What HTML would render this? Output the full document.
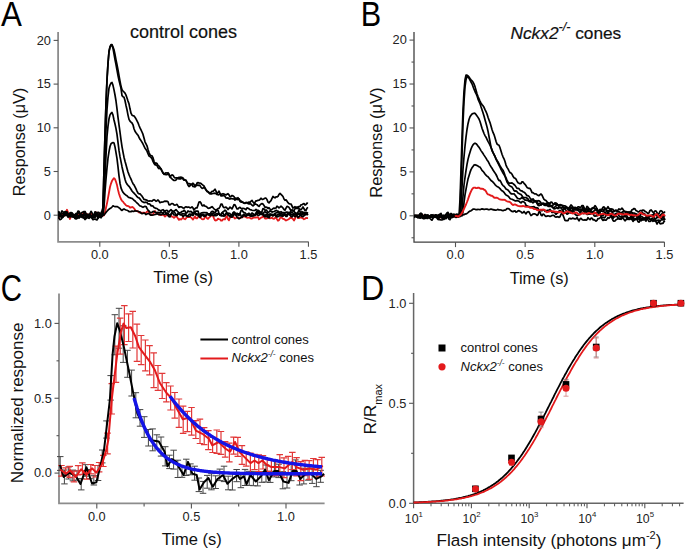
<!DOCTYPE html>
<html><head><meta charset="utf-8"><style>
html,body{margin:0;padding:0;background:#fff;}
svg{display:block;font-family:"Liberation Sans", sans-serif;}
</style></head><body>
<svg width="685" height="552" viewBox="0 0 685 552">
<rect width="685" height="552" fill="#fff"/>
<text transform="translate(1.0,26.4) scale(0.895,1)" font-size="35" fill="#000">A</text>
<text transform="translate(360.7,26.1) scale(0.875,1)" font-size="35" fill="#000">B</text>
<text transform="translate(0.8,300.6) scale(0.8,1)" font-size="36.8" fill="#000">C</text>
<text transform="translate(361.0,300.3) scale(0.9,1)" font-size="35.8" fill="#000">D</text>
<path d="M58.1,32 L58.1,241.8 L308.5,241.8" fill="none" stroke="#8c8c8c" stroke-width="1.8"/>
<line x1="53.6" y1="215.2" x2="58.1" y2="215.2" stroke="#555" stroke-width="1.1"/>
<text x="50.9" y="219.5" font-size="12.8" text-anchor="end" fill="#222" style="">0</text>
<line x1="53.6" y1="171.5" x2="58.1" y2="171.5" stroke="#555" stroke-width="1.1"/>
<text x="50.9" y="175.8" font-size="12.8" text-anchor="end" fill="#222" style="">5</text>
<line x1="53.6" y1="127.79999999999998" x2="58.1" y2="127.79999999999998" stroke="#555" stroke-width="1.1"/>
<text x="50.9" y="132.1" font-size="12.8" text-anchor="end" fill="#222" style="">10</text>
<line x1="53.6" y1="84.1" x2="58.1" y2="84.1" stroke="#555" stroke-width="1.1"/>
<text x="50.9" y="88.39999999999999" font-size="12.8" text-anchor="end" fill="#222" style="">15</text>
<line x1="53.6" y1="40.39999999999998" x2="58.1" y2="40.39999999999998" stroke="#555" stroke-width="1.1"/>
<text x="50.9" y="44.699999999999974" font-size="12.8" text-anchor="end" fill="#222" style="">20</text>
<line x1="99.8" y1="241.8" x2="99.8" y2="246.8" stroke="#555" stroke-width="1.1"/>
<text x="99.8" y="259.1" font-size="12.8" text-anchor="middle" fill="#222" style="">0.0</text>
<line x1="169.35" y1="241.8" x2="169.35" y2="246.8" stroke="#555" stroke-width="1.1"/>
<text x="169.35" y="259.1" font-size="12.8" text-anchor="middle" fill="#222" style="">0.5</text>
<line x1="238.89999999999998" y1="241.8" x2="238.89999999999998" y2="246.8" stroke="#555" stroke-width="1.1"/>
<text x="238.89999999999998" y="259.1" font-size="12.8" text-anchor="middle" fill="#222" style="">1.0</text>
<line x1="308.45" y1="241.8" x2="308.45" y2="246.8" stroke="#555" stroke-width="1.1"/>
<text x="308.45" y="259.1" font-size="12.8" text-anchor="middle" fill="#222" style="">1.5</text>
<path d="M414.0,32 L414.0,242.1 L664.5,242.1" fill="none" stroke="#404040" stroke-width="1.3"/>
<line x1="409.5" y1="215.8" x2="414.0" y2="215.8" stroke="#555" stroke-width="1.1"/>
<text x="406.8" y="220.10000000000002" font-size="12.8" text-anchor="end" fill="#222" style="">0</text>
<line x1="409.5" y1="171.875" x2="414.0" y2="171.875" stroke="#555" stroke-width="1.1"/>
<text x="406.8" y="176.175" font-size="12.8" text-anchor="end" fill="#222" style="">5</text>
<line x1="409.5" y1="127.95000000000002" x2="414.0" y2="127.95000000000002" stroke="#555" stroke-width="1.1"/>
<text x="406.8" y="132.25000000000003" font-size="12.8" text-anchor="end" fill="#222" style="">10</text>
<line x1="409.5" y1="84.025" x2="414.0" y2="84.025" stroke="#555" stroke-width="1.1"/>
<text x="406.8" y="88.325" font-size="12.8" text-anchor="end" fill="#222" style="">15</text>
<line x1="409.5" y1="40.10000000000002" x2="414.0" y2="40.10000000000002" stroke="#555" stroke-width="1.1"/>
<text x="406.8" y="44.40000000000002" font-size="12.8" text-anchor="end" fill="#222" style="">20</text>
<line x1="411.5" y1="237.76250000000002" x2="414.0" y2="237.76250000000002" stroke="#555" stroke-width="1.1"/>
<line x1="411.5" y1="193.8375" x2="414.0" y2="193.8375" stroke="#555" stroke-width="1.1"/>
<line x1="411.5" y1="149.91250000000002" x2="414.0" y2="149.91250000000002" stroke="#555" stroke-width="1.1"/>
<line x1="411.5" y1="105.98750000000001" x2="414.0" y2="105.98750000000001" stroke="#555" stroke-width="1.1"/>
<line x1="411.5" y1="62.0625" x2="414.0" y2="62.0625" stroke="#555" stroke-width="1.1"/>
<line x1="455.5" y1="242.1" x2="455.5" y2="247.1" stroke="#555" stroke-width="1.1"/>
<text x="455.5" y="259.4" font-size="12.8" text-anchor="middle" fill="#222" style="">0.0</text>
<line x1="525.15" y1="242.1" x2="525.15" y2="247.1" stroke="#555" stroke-width="1.1"/>
<text x="525.15" y="259.4" font-size="12.8" text-anchor="middle" fill="#222" style="">0.5</text>
<line x1="594.8" y1="242.1" x2="594.8" y2="247.1" stroke="#555" stroke-width="1.1"/>
<text x="594.8" y="259.4" font-size="12.8" text-anchor="middle" fill="#222" style="">1.0</text>
<line x1="664.45" y1="242.1" x2="664.45" y2="247.1" stroke="#555" stroke-width="1.1"/>
<text x="664.45" y="259.4" font-size="12.8" text-anchor="middle" fill="#222" style="">1.5</text>
<path d="M59.0,293.5 L59.0,503.4 L324.6,503.4" fill="none" stroke="#8c8c8c" stroke-width="1.8"/>
<line x1="54.5" y1="473.1" x2="59.0" y2="473.1" stroke="#555" stroke-width="1.1"/>
<text x="51.8" y="477.40000000000003" font-size="12.8" text-anchor="end" fill="#222" style="">0.0</text>
<line x1="54.5" y1="398.25" x2="59.0" y2="398.25" stroke="#555" stroke-width="1.1"/>
<text x="51.8" y="402.55" font-size="12.8" text-anchor="end" fill="#222" style="">0.5</text>
<line x1="54.5" y1="323.40000000000003" x2="59.0" y2="323.40000000000003" stroke="#555" stroke-width="1.1"/>
<text x="51.8" y="327.70000000000005" font-size="12.8" text-anchor="end" fill="#222" style="">1.0</text>
<line x1="56.5" y1="435.675" x2="59.0" y2="435.675" stroke="#555" stroke-width="1.1"/>
<line x1="56.5" y1="360.82500000000005" x2="59.0" y2="360.82500000000005" stroke="#555" stroke-width="1.1"/>
<line x1="96.8" y1="503.4" x2="96.8" y2="508.4" stroke="#555" stroke-width="1.1"/>
<text x="96.8" y="520.6999999999999" font-size="12.8" text-anchor="middle" fill="#222" style="">0.0</text>
<line x1="191.39999999999998" y1="503.4" x2="191.39999999999998" y2="508.4" stroke="#555" stroke-width="1.1"/>
<text x="191.39999999999998" y="520.6999999999999" font-size="12.8" text-anchor="middle" fill="#222" style="">0.5</text>
<line x1="286.0" y1="503.4" x2="286.0" y2="508.4" stroke="#555" stroke-width="1.1"/>
<text x="286.0" y="520.6999999999999" font-size="12.8" text-anchor="middle" fill="#222" style="">1.0</text>
<line x1="144.1" y1="503.4" x2="144.1" y2="506.4" stroke="#555" stroke-width="1.1"/>
<line x1="238.7" y1="503.4" x2="238.7" y2="506.4" stroke="#555" stroke-width="1.1"/>
<path d="M413.6,293 L413.6,503.3 L683.6,503.3" fill="none" stroke="#666" stroke-width="1.5"/>
<line x1="409.1" y1="503.3" x2="413.6" y2="503.3" stroke="#555" stroke-width="1.1"/>
<text x="406.40000000000003" y="507.6" font-size="12.8" text-anchor="end" fill="#222" style="">0.0</text>
<line x1="409.1" y1="403.3" x2="413.6" y2="403.3" stroke="#555" stroke-width="1.1"/>
<text x="406.40000000000003" y="407.6" font-size="12.8" text-anchor="end" fill="#222" style="">0.5</text>
<line x1="409.1" y1="303.3" x2="413.6" y2="303.3" stroke="#555" stroke-width="1.1"/>
<text x="406.40000000000003" y="307.6" font-size="12.8" text-anchor="end" fill="#222" style="">1.0</text>
<line x1="411.1" y1="453.3" x2="413.6" y2="453.3" stroke="#555" stroke-width="1.1"/>
<line x1="411.1" y1="353.3" x2="413.6" y2="353.3" stroke="#555" stroke-width="1.1"/>
<line x1="413.6" y1="503.3" x2="413.6" y2="508.3" stroke="#555" stroke-width="1.1"/>
<text x="404.8" y="523" font-size="12.3" fill="#222">10<tspan dy="-6.2" font-size="7.8">1</tspan></text>
<line x1="431.0" y1="503.3" x2="431.0" y2="506.3" stroke="#555" stroke-width="1"/>
<line x1="441.2" y1="503.3" x2="441.2" y2="506.3" stroke="#555" stroke-width="1"/>
<line x1="448.4" y1="503.3" x2="448.4" y2="506.3" stroke="#555" stroke-width="1"/>
<line x1="454.0" y1="503.3" x2="454.0" y2="506.3" stroke="#555" stroke-width="1"/>
<line x1="458.6" y1="503.3" x2="458.6" y2="506.3" stroke="#555" stroke-width="1"/>
<line x1="462.4" y1="503.3" x2="462.4" y2="506.3" stroke="#555" stroke-width="1"/>
<line x1="465.8" y1="503.3" x2="465.8" y2="506.3" stroke="#555" stroke-width="1"/>
<line x1="468.8" y1="503.3" x2="468.8" y2="506.3" stroke="#555" stroke-width="1"/>
<line x1="471.4" y1="503.3" x2="471.4" y2="508.3" stroke="#555" stroke-width="1.1"/>
<text x="462.6" y="523" font-size="12.3" fill="#222">10<tspan dy="-6.2" font-size="7.8">2</tspan></text>
<line x1="488.8" y1="503.3" x2="488.8" y2="506.3" stroke="#555" stroke-width="1"/>
<line x1="499.0" y1="503.3" x2="499.0" y2="506.3" stroke="#555" stroke-width="1"/>
<line x1="506.2" y1="503.3" x2="506.2" y2="506.3" stroke="#555" stroke-width="1"/>
<line x1="511.8" y1="503.3" x2="511.8" y2="506.3" stroke="#555" stroke-width="1"/>
<line x1="516.4" y1="503.3" x2="516.4" y2="506.3" stroke="#555" stroke-width="1"/>
<line x1="520.2" y1="503.3" x2="520.2" y2="506.3" stroke="#555" stroke-width="1"/>
<line x1="523.6" y1="503.3" x2="523.6" y2="506.3" stroke="#555" stroke-width="1"/>
<line x1="526.6" y1="503.3" x2="526.6" y2="506.3" stroke="#555" stroke-width="1"/>
<line x1="529.2" y1="503.3" x2="529.2" y2="508.3" stroke="#555" stroke-width="1.1"/>
<text x="520.4" y="523" font-size="12.3" fill="#222">10<tspan dy="-6.2" font-size="7.8">3</tspan></text>
<line x1="546.6" y1="503.3" x2="546.6" y2="506.3" stroke="#555" stroke-width="1"/>
<line x1="556.8" y1="503.3" x2="556.8" y2="506.3" stroke="#555" stroke-width="1"/>
<line x1="564.0" y1="503.3" x2="564.0" y2="506.3" stroke="#555" stroke-width="1"/>
<line x1="569.6" y1="503.3" x2="569.6" y2="506.3" stroke="#555" stroke-width="1"/>
<line x1="574.2" y1="503.3" x2="574.2" y2="506.3" stroke="#555" stroke-width="1"/>
<line x1="578.0" y1="503.3" x2="578.0" y2="506.3" stroke="#555" stroke-width="1"/>
<line x1="581.4" y1="503.3" x2="581.4" y2="506.3" stroke="#555" stroke-width="1"/>
<line x1="584.4" y1="503.3" x2="584.4" y2="506.3" stroke="#555" stroke-width="1"/>
<line x1="587.0" y1="503.3" x2="587.0" y2="508.3" stroke="#555" stroke-width="1.1"/>
<text x="578.2" y="523" font-size="12.3" fill="#222">10<tspan dy="-6.2" font-size="7.8">4</tspan></text>
<line x1="604.4" y1="503.3" x2="604.4" y2="506.3" stroke="#555" stroke-width="1"/>
<line x1="614.6" y1="503.3" x2="614.6" y2="506.3" stroke="#555" stroke-width="1"/>
<line x1="621.8" y1="503.3" x2="621.8" y2="506.3" stroke="#555" stroke-width="1"/>
<line x1="627.4" y1="503.3" x2="627.4" y2="506.3" stroke="#555" stroke-width="1"/>
<line x1="632.0" y1="503.3" x2="632.0" y2="506.3" stroke="#555" stroke-width="1"/>
<line x1="635.8" y1="503.3" x2="635.8" y2="506.3" stroke="#555" stroke-width="1"/>
<line x1="639.2" y1="503.3" x2="639.2" y2="506.3" stroke="#555" stroke-width="1"/>
<line x1="642.2" y1="503.3" x2="642.2" y2="506.3" stroke="#555" stroke-width="1"/>
<line x1="644.8" y1="503.3" x2="644.8" y2="508.3" stroke="#555" stroke-width="1.1"/>
<text x="636.0" y="523" font-size="12.3" fill="#222">10<tspan dy="-6.2" font-size="7.8">5</tspan></text>
<line x1="662.2" y1="503.3" x2="662.2" y2="506.3" stroke="#555" stroke-width="1"/>
<line x1="672.4" y1="503.3" x2="672.4" y2="506.3" stroke="#555" stroke-width="1"/>
<line x1="679.6" y1="503.3" x2="679.6" y2="506.3" stroke="#555" stroke-width="1"/>
<text x="130.0" y="38.3" font-size="18" text-anchor="start" fill="#111" stroke="#111" stroke-width="0.2" style="">control cones</text>
<text x="510.5" y="38.9" font-size="17.3" fill="#111" stroke="#111" stroke-width="0.2"><tspan font-style="italic">Nckx2</tspan><tspan dy="-7.5" font-size="12.5" font-style="italic">-/-</tspan><tspan dy="7.5"> cones</tspan></text>
<text x="183.1" y="282.5" font-size="16.5" text-anchor="middle" fill="#111" style="">Time (s)</text>
<text x="539.2" y="283.8" font-size="16.3" text-anchor="middle" fill="#111" style="">Time (s)</text>
<text x="191.8" y="545.0" font-size="16.5" text-anchor="middle" fill="#111" style="">Time (s)</text>
<text x="436.5" y="546.3" font-size="17.1" fill="#111">Flash intensity (photons μm<tspan dy="-7" font-size="11">-2</tspan><tspan dy="7">)</tspan></text>
<text transform="translate(24.8,142.0) rotate(-90)" font-size="16.2" text-anchor="middle" fill="#111">Response (μV)</text>
<text transform="translate(381.5,142.6) rotate(-90)" font-size="16.5" text-anchor="middle" fill="#111">Response (μV)</text>
<text transform="translate(22.9,402.9) rotate(-90)" font-size="17" text-anchor="middle" fill="#111">Normalized response</text>
<text transform="translate(375.8,434.5) rotate(-90)" font-size="17.3" fill="#111">R/R<tspan dy="6" font-size="11">max</tspan></text>
<line x1="200.4" y1="339.5" x2="228" y2="339.5" stroke="#000" stroke-width="2"/>
<line x1="200.4" y1="358.5" x2="228" y2="358.5" stroke="#e31a1c" stroke-width="2"/>
<text x="231.5" y="343.7" font-size="13" text-anchor="start" fill="#111" style="">control cones</text>
<text x="231.5" y="361.9" font-size="13" fill="#111"><tspan font-style="italic">Nckx2</tspan><tspan dy="-5" font-size="8.5" font-style="italic">-/-</tspan><tspan dy="5"> cones</tspan></text>
<rect x="438.5" y="344.5" width="7" height="7" fill="#000"/>
<circle cx="442" cy="366.8" r="3.6" fill="#e31a1c"/>
<text x="460.5" y="352.1" font-size="13" text-anchor="start" fill="#111" style="">control cones</text>
<text x="460.5" y="370.9" font-size="13" fill="#111"><tspan font-style="italic">Nckx2</tspan><tspan dy="-5" font-size="8.5" font-style="italic">-/-</tspan><tspan dy="5"> cones</tspan></text>
<defs><clipPath id="clipA"><rect x="58" y="25" width="252" height="230"/></clipPath><clipPath id="clipB"><rect x="414" y="25" width="252" height="230"/></clipPath></defs>
<g clip-path="url(#clipA)">
<path d="M58.0,218.6 L59.0,217.7 L60.0,214.7 L61.0,214.4 L62.0,215.5 L63.0,214.0 L64.0,213.1 L65.0,215.6 L66.0,211.7 L67.0,209.7 L68.0,212.4 L69.0,217.0 L70.0,219.0 L71.0,216.5 L72.0,215.1 L73.0,215.4 L74.0,215.2 L75.0,214.7 L76.0,214.2 L77.0,215.7 L78.0,214.7 L79.0,211.8 L80.0,213.8 L81.0,216.1 L82.0,216.1 L83.0,213.7 L84.0,212.1 L85.0,213.3 L86.0,215.1 L87.0,214.1 L88.0,214.6 L89.0,216.3 L90.0,214.5 L91.0,213.5 L92.0,215.0 L93.0,216.6 L94.0,216.8 L95.0,213.7 L96.0,212.3 L97.0,214.5 L98.0,215.3 L99.0,213.2 L100.0,213.9 L101.0,215.8 L102.0,216.2 L103.0,215.5 L104.0,215.3 L105.0,212.4 L106.0,207.7 L107.0,203.3 L108.0,198.0 L109.0,192.5 L110.0,187.0 L111.0,183.6 L112.0,180.9 L113.0,179.3 L114.0,178.2 L115.0,179.1 L116.0,181.8 L117.0,185.1 L118.0,189.7 L119.0,193.8 L120.0,196.6 L121.0,199.2 L122.0,200.8 L123.0,201.7 L124.0,203.1 L125.0,204.2 L126.0,205.3 L127.0,205.9 L128.0,206.0 L129.0,206.5 L130.0,207.5 L131.0,207.5 L132.0,206.9 L133.0,207.4 L134.0,208.3 L135.0,209.7 L136.0,211.2 L137.0,210.8 L138.0,211.4 L139.0,212.5 L140.0,212.3 L141.0,212.5 L142.0,213.0 L143.0,212.6 L144.0,212.6 L145.0,213.1 L146.0,212.8 L147.0,211.5 L148.0,211.2 L149.0,212.9 L150.0,214.6 L151.0,214.4 L152.0,215.0 L153.0,214.4 L154.0,212.4 L155.0,210.9 L156.0,212.8 L157.0,213.2 L158.0,212.8 L159.0,214.4 L160.0,215.1 L161.0,215.1 L162.0,214.7 L163.0,215.0 L164.0,215.5 L165.0,216.6 L166.0,215.7 L167.0,214.5 L168.0,215.5 L169.0,216.1 L170.0,215.4 L171.0,215.2 L172.0,216.7 L173.0,217.0 L174.0,217.8 L175.0,216.8 L176.0,216.5 L177.0,217.0 L178.0,218.4 L179.0,219.9 L180.0,219.0 L181.0,219.6 L182.0,218.6 L183.0,217.5 L184.0,218.8 L185.0,219.3 L186.0,218.3 L187.0,216.6 L188.0,217.1 L189.0,217.1 L190.0,217.1 L191.0,217.4 L192.0,218.4 L193.0,219.6 L194.0,218.0 L195.0,216.5 L196.0,218.3 L197.0,218.4 L198.0,217.1 L199.0,216.0 L200.0,217.2 L201.0,218.0 L202.0,219.1 L203.0,219.4 L204.0,219.0 L205.0,217.1 L206.0,216.3 L207.0,218.4 L208.0,218.8 L209.0,217.7 L210.0,216.8 L211.0,215.8 L212.0,215.0 L213.0,215.9 L214.0,218.3 L215.0,220.4 L216.0,220.5 L217.0,220.0 L218.0,218.6 L219.0,219.2 L220.0,219.3 L221.0,220.6 L222.0,220.6 L223.0,219.3 L224.0,219.2 L225.0,219.3 L226.0,216.9 L227.0,216.0 L228.0,219.2 L229.0,220.3 L230.0,217.4 L231.0,217.1 L232.0,216.8 L233.0,216.9 L234.0,217.4 L235.0,218.6 L236.0,218.0 L237.0,217.4 L238.0,217.4 L239.0,218.4 L240.0,218.0 L241.0,217.6 L242.0,217.3 L243.0,216.6 L244.0,216.7 L245.0,216.3 L246.0,217.2 L247.0,217.8 L248.0,217.7 L249.0,217.7 L250.0,217.8 L251.0,218.7 L252.0,218.5 L253.0,217.8 L254.0,217.6 L255.0,217.5 L256.0,217.7 L257.0,217.2 L258.0,217.1 L259.0,219.3 L260.0,218.5 L261.0,217.7 L262.0,217.4 L263.0,216.0 L264.0,217.1 L265.0,218.5 L266.0,218.5 L267.0,218.3 L268.0,217.9 L269.0,217.9 L270.0,218.4 L271.0,218.2 L272.0,217.6 L273.0,218.6 L274.0,218.8 L275.0,217.8 L276.0,217.8 L277.0,219.2 L278.0,220.7 L279.0,220.2 L280.0,218.1 L281.0,217.4 L282.0,217.9 L283.0,218.8 L284.0,219.0 L285.0,219.8 L286.0,220.6 L287.0,220.0 L288.0,219.6 L289.0,219.0 L290.0,218.0 L291.0,218.0 L292.0,218.2 L293.0,218.9 L294.0,220.5 L295.0,218.8 L296.0,215.4 L297.0,216.3 L298.0,218.0 L299.0,218.2 L300.0,217.6 L301.0,217.7 L302.0,217.9 L303.0,218.4 L304.0,219.3 L305.0,218.8 L306.0,218.0 L307.0,218.1 L308.0,218.0" fill="none" stroke="#e31a1c" stroke-width="1.8" stroke-linejoin="round"/>
<path d="M58.0,211.7 L59.0,211.9 L60.0,214.9 L61.0,217.2 L62.0,217.5 L63.0,215.3 L64.0,214.4 L65.0,213.5 L66.0,212.4 L67.0,211.8 L68.0,214.2 L69.0,214.4 L70.0,214.9 L71.0,215.9 L72.0,215.2 L73.0,214.5 L74.0,217.1 L75.0,217.6 L76.0,216.0 L77.0,213.3 L78.0,211.1 L79.0,211.4 L80.0,213.7 L81.0,214.8 L82.0,215.5 L83.0,217.7 L84.0,217.6 L85.0,217.6 L86.0,216.6 L87.0,214.9 L88.0,216.2 L89.0,215.6 L90.0,214.1 L91.0,216.2 L92.0,217.9 L93.0,218.0 L94.0,216.4 L95.0,213.5 L96.0,213.4 L97.0,214.0 L98.0,214.9 L99.0,216.0 L100.0,217.3 L101.0,216.4 L102.0,215.1 L103.0,215.3 L104.0,207.5 L105.0,191.7 L106.0,179.0 L107.0,167.8 L108.0,158.2 L109.0,151.6 L110.0,146.5 L111.0,143.7 L112.0,143.0 L113.0,142.5 L114.0,143.0 L115.0,146.9 L116.0,152.6 L117.0,158.6 L118.0,166.8 L119.0,175.8 L120.0,183.2 L121.0,187.9 L122.0,190.4 L123.0,192.3 L124.0,193.5 L125.0,194.3 L126.0,195.2 L127.0,195.7 L128.0,196.9 L129.0,197.6 L130.0,197.7 L131.0,198.1 L132.0,198.4 L133.0,199.2 L134.0,200.3 L135.0,200.9 L136.0,202.0 L137.0,203.0 L138.0,203.8 L139.0,205.0 L140.0,206.0 L141.0,206.1 L142.0,206.8 L143.0,207.3 L144.0,206.8 L145.0,206.3 L146.0,206.5 L147.0,208.5 L148.0,210.1 L149.0,211.0 L150.0,212.3 L151.0,212.7 L152.0,212.2 L153.0,211.5 L154.0,211.3 L155.0,212.1 L156.0,212.7 L157.0,212.6 L158.0,212.4 L159.0,212.6 L160.0,212.8 L161.0,211.9 L162.0,212.5 L163.0,213.5 L164.0,214.3 L165.0,214.3 L166.0,213.5 L167.0,212.9 L168.0,213.2 L169.0,214.7 L170.0,215.0 L171.0,214.2 L172.0,213.3 L173.0,213.5 L174.0,214.9 L175.0,215.0 L176.0,215.5 L177.0,215.6 L178.0,213.6 L179.0,213.5 L180.0,214.7 L181.0,214.8 L182.0,213.9 L183.0,213.9 L184.0,213.8 L185.0,214.0 L186.0,214.9 L187.0,215.6 L188.0,216.3 L189.0,216.5 L190.0,216.2 L191.0,214.8 L192.0,214.2 L193.0,212.8 L194.0,212.0 L195.0,213.0 L196.0,214.9 L197.0,214.6 L198.0,214.0 L199.0,215.8 L200.0,216.2 L201.0,215.1 L202.0,214.6 L203.0,214.3 L204.0,214.7 L205.0,216.4 L206.0,215.4 L207.0,214.5 L208.0,214.2 L209.0,213.8 L210.0,213.9 L211.0,214.3 L212.0,213.4 L213.0,213.1 L214.0,214.0 L215.0,214.9 L216.0,213.9 L217.0,213.7 L218.0,214.3 L219.0,213.9 L220.0,214.6 L221.0,215.8 L222.0,215.8 L223.0,215.9 L224.0,216.3 L225.0,214.9 L226.0,213.5 L227.0,213.1 L228.0,214.5 L229.0,215.3 L230.0,215.5 L231.0,217.0 L232.0,217.1 L233.0,215.9 L234.0,214.4 L235.0,214.8 L236.0,214.5 L237.0,213.2 L238.0,213.9 L239.0,213.9 L240.0,213.5 L241.0,215.6 L242.0,217.4 L243.0,216.2 L244.0,214.5 L245.0,214.8 L246.0,215.6 L247.0,214.8 L248.0,215.0 L249.0,215.3 L250.0,215.8 L251.0,216.0 L252.0,214.8 L253.0,215.6 L254.0,215.6 L255.0,214.3 L256.0,213.5 L257.0,214.2 L258.0,213.3 L259.0,211.4 L260.0,211.8 L261.0,212.6 L262.0,213.1 L263.0,213.6 L264.0,214.6 L265.0,216.6 L266.0,216.7 L267.0,216.2 L268.0,217.3 L269.0,217.8 L270.0,215.9 L271.0,214.3 L272.0,215.4 L273.0,216.1 L274.0,214.8 L275.0,215.2 L276.0,216.5 L277.0,217.0 L278.0,216.6 L279.0,215.8 L280.0,215.0 L281.0,215.0 L282.0,216.2 L283.0,216.2 L284.0,214.9 L285.0,215.0 L286.0,216.5 L287.0,216.3 L288.0,214.3 L289.0,213.5 L290.0,215.0 L291.0,216.5 L292.0,216.9 L293.0,215.9 L294.0,214.2 L295.0,214.5 L296.0,214.7 L297.0,215.6 L298.0,217.6 L299.0,216.6 L300.0,215.6 L301.0,215.6 L302.0,216.5 L303.0,216.7 L304.0,215.7 L305.0,215.1 L306.0,214.6 L307.0,214.2 L308.0,215.0" fill="none" stroke="#000" stroke-width="1.7" stroke-linejoin="round"/>
<path d="M58.0,217.8 L59.0,216.8 L60.0,215.4 L61.0,216.1 L62.0,216.4 L63.0,216.2 L64.0,215.1 L65.0,213.0 L66.0,214.4 L67.0,215.0 L68.0,216.0 L69.0,214.9 L70.0,213.2 L71.0,213.4 L72.0,214.0 L73.0,216.2 L74.0,216.5 L75.0,216.0 L76.0,215.2 L77.0,217.1 L78.0,217.1 L79.0,218.2 L80.0,217.0 L81.0,214.2 L82.0,214.5 L83.0,214.8 L84.0,216.7 L85.0,218.8 L86.0,218.5 L87.0,216.8 L88.0,214.1 L89.0,215.0 L90.0,216.7 L91.0,217.0 L92.0,215.4 L93.0,216.0 L94.0,214.9 L95.0,211.8 L96.0,212.2 L97.0,213.8 L98.0,212.2 L99.0,212.6 L100.0,215.8 L101.0,216.0 L102.0,214.9 L103.0,212.1 L104.0,195.2 L105.0,176.2 L106.0,155.5 L107.0,136.5 L108.0,126.1 L109.0,118.8 L110.0,114.9 L111.0,113.3 L112.0,112.5 L113.0,115.1 L114.0,120.0 L115.0,124.0 L116.0,128.6 L117.0,134.4 L118.0,142.4 L119.0,150.4 L120.0,156.7 L121.0,161.6 L122.0,166.7 L123.0,171.2 L124.0,175.3 L125.0,179.3 L126.0,182.4 L127.0,184.1 L128.0,185.3 L129.0,186.3 L130.0,187.8 L131.0,189.3 L132.0,191.0 L133.0,192.1 L134.0,193.1 L135.0,194.2 L136.0,195.3 L137.0,196.7 L138.0,197.5 L139.0,197.9 L140.0,198.9 L141.0,200.3 L142.0,201.5 L143.0,202.0 L144.0,202.6 L145.0,202.3 L146.0,202.2 L147.0,202.6 L148.0,203.9 L149.0,203.8 L150.0,204.3 L151.0,205.8 L152.0,205.7 L153.0,206.1 L154.0,207.5 L155.0,207.9 L156.0,208.4 L157.0,208.5 L158.0,209.5 L159.0,210.2 L160.0,210.4 L161.0,211.0 L162.0,210.0 L163.0,209.7 L164.0,210.5 L165.0,211.2 L166.0,210.5 L167.0,210.3 L168.0,211.3 L169.0,212.0 L170.0,210.6 L171.0,209.6 L172.0,210.7 L173.0,211.6 L174.0,211.1 L175.0,210.5 L176.0,209.6 L177.0,210.8 L178.0,212.0 L179.0,212.7 L180.0,212.8 L181.0,212.4 L182.0,211.5 L183.0,211.4 L184.0,210.2 L185.0,211.2 L186.0,213.3 L187.0,212.7 L188.0,210.9 L189.0,211.7 L190.0,211.6 L191.0,211.3 L192.0,212.3 L193.0,213.3 L194.0,213.3 L195.0,211.3 L196.0,211.1 L197.0,211.2 L198.0,211.1 L199.0,213.9 L200.0,214.9 L201.0,213.1 L202.0,212.8 L203.0,212.7 L204.0,212.6 L205.0,212.5 L206.0,212.9 L207.0,212.6 L208.0,214.2 L209.0,215.2 L210.0,215.1 L211.0,212.2 L212.0,211.4 L213.0,211.3 L214.0,212.3 L215.0,212.8 L216.0,211.3 L217.0,209.9 L218.0,210.4 L219.0,213.0 L220.0,215.1 L221.0,215.0 L222.0,213.2 L223.0,211.7 L224.0,211.2 L225.0,210.2 L226.0,210.9 L227.0,213.2 L228.0,213.3 L229.0,213.2 L230.0,213.6 L231.0,215.1 L232.0,214.9 L233.0,212.7 L234.0,211.9 L235.0,212.7 L236.0,214.8 L237.0,215.1 L238.0,214.6 L239.0,215.5 L240.0,213.5 L241.0,210.6 L242.0,209.9 L243.0,211.8 L244.0,212.9 L245.0,212.7 L246.0,213.8 L247.0,214.6 L248.0,214.1 L249.0,214.9 L250.0,215.6 L251.0,214.2 L252.0,212.9 L253.0,213.6 L254.0,214.9 L255.0,215.5 L256.0,212.9 L257.0,211.3 L258.0,212.7 L259.0,213.3 L260.0,213.0 L261.0,213.7 L262.0,214.3 L263.0,214.1 L264.0,212.3 L265.0,211.8 L266.0,212.4 L267.0,213.1 L268.0,214.6 L269.0,214.5 L270.0,214.3 L271.0,215.2 L272.0,215.1 L273.0,215.1 L274.0,214.6 L275.0,213.4 L276.0,212.9 L277.0,212.5 L278.0,211.8 L279.0,212.7 L280.0,214.1 L281.0,213.7 L282.0,213.6 L283.0,215.1 L284.0,213.8 L285.0,214.1 L286.0,215.2 L287.0,214.9 L288.0,213.2 L289.0,213.1 L290.0,213.9 L291.0,215.0 L292.0,214.9 L293.0,214.8 L294.0,215.6 L295.0,216.7 L296.0,216.0 L297.0,214.8 L298.0,213.5 L299.0,213.6 L300.0,213.3 L301.0,214.4 L302.0,214.0 L303.0,212.5 L304.0,212.2 L305.0,213.3 L306.0,213.8 L307.0,213.3 L308.0,213.3" fill="none" stroke="#000" stroke-width="1.7" stroke-linejoin="round"/>
<path d="M58.0,217.6 L59.0,218.2 L60.0,219.7 L61.0,219.3 L62.0,217.9 L63.0,217.2 L64.0,215.6 L65.0,215.5 L66.0,214.0 L67.0,215.5 L68.0,217.1 L69.0,216.0 L70.0,214.2 L71.0,213.5 L72.0,214.8 L73.0,217.1 L74.0,217.0 L75.0,214.6 L76.0,213.5 L77.0,214.2 L78.0,212.9 L79.0,212.9 L80.0,214.1 L81.0,215.9 L82.0,216.3 L83.0,216.2 L84.0,215.5 L85.0,214.8 L86.0,216.5 L87.0,217.7 L88.0,216.5 L89.0,216.1 L90.0,216.1 L91.0,217.2 L92.0,217.5 L93.0,217.3 L94.0,217.4 L95.0,217.6 L96.0,215.4 L97.0,214.0 L98.0,214.3 L99.0,215.1 L100.0,214.1 L101.0,214.2 L102.0,216.5 L103.0,210.5 L104.0,183.5 L105.0,156.8 L106.0,129.8 L107.0,109.5 L108.0,96.8 L109.0,88.2 L110.0,85.1 L111.0,83.0 L112.0,82.5 L113.0,85.4 L114.0,89.9 L115.0,95.0 L116.0,101.0 L117.0,108.9 L118.0,117.3 L119.0,124.9 L120.0,132.2 L121.0,139.8 L122.0,146.6 L123.0,152.2 L124.0,157.2 L125.0,161.3 L126.0,164.8 L127.0,168.5 L128.0,172.0 L129.0,174.6 L130.0,177.0 L131.0,179.1 L132.0,181.5 L133.0,183.7 L134.0,184.9 L135.0,186.8 L136.0,188.9 L137.0,191.1 L138.0,193.1 L139.0,193.8 L140.0,193.9 L141.0,195.0 L142.0,196.1 L143.0,197.7 L144.0,199.5 L145.0,199.6 L146.0,199.9 L147.0,200.3 L148.0,201.0 L149.0,201.1 L150.0,200.9 L151.0,201.0 L152.0,201.2 L153.0,200.2 L154.0,199.7 L155.0,200.2 L156.0,201.3 L157.0,200.7 L158.0,200.0 L159.0,201.1 L160.0,202.7 L161.0,202.2 L162.0,202.1 L163.0,202.0 L164.0,201.5 L165.0,201.1 L166.0,201.3 L167.0,201.2 L168.0,201.7 L169.0,204.6 L170.0,205.0 L171.0,204.0 L172.0,203.5 L173.0,203.8 L174.0,204.9 L175.0,205.1 L176.0,204.8 L177.0,204.4 L178.0,206.0 L179.0,207.4 L180.0,206.8 L181.0,206.8 L182.0,207.2 L183.0,208.0 L184.0,208.2 L185.0,207.3 L186.0,206.8 L187.0,207.3 L188.0,207.2 L189.0,207.1 L190.0,207.8 L191.0,207.7 L192.0,206.8 L193.0,208.0 L194.0,210.0 L195.0,208.7 L196.0,207.8 L197.0,208.0 L198.0,205.1 L199.0,202.0 L200.0,201.7 L201.0,203.1 L202.0,205.4 L203.0,205.9 L204.0,205.0 L205.0,206.2 L206.0,206.3 L207.0,207.2 L208.0,208.2 L209.0,208.3 L210.0,207.9 L211.0,207.3 L212.0,206.7 L213.0,207.7 L214.0,208.8 L215.0,209.6 L216.0,210.4 L217.0,209.4 L218.0,208.6 L219.0,208.4 L220.0,206.6 L221.0,204.2 L222.0,204.0 L223.0,206.6 L224.0,207.6 L225.0,207.4 L226.0,207.1 L227.0,208.1 L228.0,209.5 L229.0,208.4 L230.0,207.1 L231.0,208.0 L232.0,209.0 L233.0,206.9 L234.0,204.7 L235.0,204.8 L236.0,206.8 L237.0,209.0 L238.0,208.9 L239.0,207.8 L240.0,207.4 L241.0,208.3 L242.0,208.6 L243.0,208.4 L244.0,208.5 L245.0,209.1 L246.0,209.7 L247.0,207.9 L248.0,208.2 L249.0,208.8 L250.0,209.7 L251.0,209.8 L252.0,210.2 L253.0,210.5 L254.0,210.5 L255.0,210.3 L256.0,209.3 L257.0,210.1 L258.0,210.3 L259.0,211.0 L260.0,212.3 L261.0,212.7 L262.0,211.6 L263.0,208.6 L264.0,208.9 L265.0,210.4 L266.0,209.9 L267.0,210.9 L268.0,212.7 L269.0,212.1 L270.0,210.8 L271.0,211.5 L272.0,212.1 L273.0,211.8 L274.0,211.5 L275.0,211.1 L276.0,210.3 L277.0,210.8 L278.0,211.1 L279.0,212.0 L280.0,212.2 L281.0,211.7 L282.0,212.5 L283.0,212.7 L284.0,212.6 L285.0,212.8 L286.0,212.2 L287.0,212.0 L288.0,212.3 L289.0,212.8 L290.0,212.5 L291.0,210.5 L292.0,210.3 L293.0,210.2 L294.0,211.3 L295.0,212.6 L296.0,213.2 L297.0,213.7 L298.0,212.3 L299.0,209.9 L300.0,211.4 L301.0,214.5 L302.0,215.1 L303.0,213.3 L304.0,212.6 L305.0,213.6 L306.0,212.2 L307.0,212.7 L308.0,213.3" fill="none" stroke="#000" stroke-width="1.7" stroke-linejoin="round"/>
<path d="M58.0,216.6 L59.0,214.9 L60.0,214.1 L61.0,214.2 L62.0,213.7 L63.0,213.5 L64.0,213.8 L65.0,214.3 L66.0,214.8 L67.0,213.7 L68.0,214.9 L69.0,214.2 L70.0,212.9 L71.0,212.4 L72.0,213.8 L73.0,214.7 L74.0,215.0 L75.0,214.7 L76.0,216.4 L77.0,218.6 L78.0,216.9 L79.0,215.4 L80.0,216.4 L81.0,216.2 L82.0,216.6 L83.0,216.2 L84.0,213.6 L85.0,211.5 L86.0,213.5 L87.0,215.4 L88.0,215.3 L89.0,216.4 L90.0,216.8 L91.0,216.1 L92.0,218.2 L93.0,219.7 L94.0,219.2 L95.0,219.0 L96.0,219.6 L97.0,219.9 L98.0,217.2 L99.0,215.8 L100.0,215.3 L101.0,212.7 L102.0,211.1 L103.0,207.3 L104.0,168.7 L105.0,134.4 L106.0,103.0 L107.0,79.3 L108.0,63.4 L109.0,51.8 L110.0,47.4 L111.0,45.4 L112.0,45.2 L113.0,48.3 L114.0,53.8 L115.0,59.5 L116.0,64.5 L117.0,70.1 L118.0,75.6 L119.0,80.4 L120.0,84.3 L121.0,88.3 L122.0,95.7 L123.0,96.7 L124.0,97.3 L125.0,100.5 L126.0,105.5 L127.0,109.8 L128.0,115.1 L129.0,119.4 L130.0,121.1 L131.0,122.2 L132.0,123.0 L133.0,124.8 L134.0,128.7 L135.0,131.2 L136.0,132.7 L137.0,134.1 L138.0,135.2 L139.0,137.3 L140.0,139.3 L141.0,140.6 L142.0,142.2 L143.0,144.0 L144.0,146.1 L145.0,148.2 L146.0,149.5 L147.0,151.1 L148.0,153.7 L149.0,156.0 L150.0,156.6 L151.0,157.4 L152.0,158.6 L153.0,161.4 L154.0,163.5 L155.0,164.8 L156.0,164.9 L157.0,165.5 L158.0,167.7 L159.0,168.7 L160.0,168.3 L161.0,168.8 L162.0,170.9 L163.0,172.8 L164.0,174.4 L165.0,173.3 L166.0,172.9 L167.0,173.0 L168.0,172.7 L169.0,174.1 L170.0,176.2 L171.0,175.9 L172.0,174.9 L173.0,175.2 L174.0,177.0 L175.0,178.0 L176.0,177.9 L177.0,177.8 L178.0,178.5 L179.0,178.9 L180.0,178.8 L181.0,178.8 L182.0,177.4 L183.0,177.9 L184.0,179.5 L185.0,180.2 L186.0,180.4 L187.0,182.1 L188.0,183.6 L189.0,183.7 L190.0,183.9 L191.0,184.5 L192.0,184.1 L193.0,183.2 L194.0,184.4 L195.0,185.7 L196.0,184.8 L197.0,185.2 L198.0,185.3 L199.0,185.1 L200.0,185.6 L201.0,187.2 L202.0,188.3 L203.0,188.1 L204.0,187.2 L205.0,188.3 L206.0,190.1 L207.0,191.4 L208.0,191.9 L209.0,192.4 L210.0,192.9 L211.0,192.4 L212.0,191.3 L213.0,191.3 L214.0,190.4 L215.0,189.2 L216.0,191.1 L217.0,194.0 L218.0,192.4 L219.0,191.1 L220.0,193.4 L221.0,195.9 L222.0,195.8 L223.0,195.7 L224.0,195.6 L225.0,196.4 L226.0,198.0 L227.0,198.1 L228.0,197.8 L229.0,198.8 L230.0,199.1 L231.0,198.5 L232.0,198.7 L233.0,198.8 L234.0,199.0 L235.0,200.1 L236.0,199.6 L237.0,198.5 L238.0,197.7 L239.0,199.2 L240.0,201.4 L241.0,201.1 L242.0,201.7 L243.0,202.3 L244.0,203.2 L245.0,203.4 L246.0,202.6 L247.0,202.9 L248.0,203.7 L249.0,203.9 L250.0,203.8 L251.0,204.0 L252.0,205.1 L253.0,205.9 L254.0,205.0 L255.0,203.9 L256.0,204.3 L257.0,204.7 L258.0,205.7 L259.0,206.4 L260.0,205.0 L261.0,204.0 L262.0,203.6 L263.0,204.1 L264.0,205.4 L265.0,207.3 L266.0,207.2 L267.0,207.3 L268.0,208.5 L269.0,207.7 L270.0,209.0 L271.0,210.0 L272.0,209.5 L273.0,208.5 L274.0,208.1 L275.0,208.3 L276.0,208.0 L277.0,206.2 L278.0,206.9 L279.0,207.9 L280.0,207.1 L281.0,206.2 L282.0,207.0 L283.0,208.0 L284.0,209.6 L285.0,210.2 L286.0,208.2 L287.0,206.3 L288.0,206.7 L289.0,207.4 L290.0,209.1 L291.0,210.2 L292.0,210.0 L293.0,210.9 L294.0,210.6 L295.0,208.8 L296.0,207.3 L297.0,207.0 L298.0,207.0 L299.0,208.6 L300.0,209.4 L301.0,209.8 L302.0,208.4 L303.0,206.9 L304.0,208.8 L305.0,210.5 L306.0,210.3 L307.0,208.1 L308.0,207.4" fill="none" stroke="#000" stroke-width="1.7" stroke-linejoin="round"/>
<path d="M58.0,213.3 L59.0,212.4 L60.0,214.2 L61.0,212.9 L62.0,210.9 L63.0,212.0 L64.0,212.7 L65.0,211.7 L66.0,211.9 L67.0,214.9 L68.0,216.7 L69.0,215.2 L70.0,214.4 L71.0,216.0 L72.0,216.7 L73.0,216.0 L74.0,217.0 L75.0,217.4 L76.0,215.3 L77.0,214.2 L78.0,215.6 L79.0,216.8 L80.0,216.4 L81.0,213.4 L82.0,212.4 L83.0,211.9 L84.0,211.7 L85.0,214.5 L86.0,215.7 L87.0,215.6 L88.0,217.9 L89.0,218.3 L90.0,217.5 L91.0,217.2 L92.0,216.3 L93.0,214.2 L94.0,215.6 L95.0,215.2 L96.0,212.9 L97.0,214.2 L98.0,215.4 L99.0,215.9 L100.0,214.9 L101.0,214.9 L102.0,214.9 L103.0,207.5 L104.0,168.7 L105.0,134.6 L106.0,103.8 L107.0,80.1 L108.0,63.5 L109.0,51.3 L110.0,46.6 L111.0,44.7 L112.0,44.7 L113.0,47.0 L114.0,49.8 L115.0,54.5 L116.0,59.8 L117.0,64.7 L118.0,69.8 L119.0,75.7 L120.0,81.1 L121.0,86.3 L122.0,89.8 L123.0,91.0 L124.0,92.0 L125.0,93.1 L126.0,95.1 L127.0,98.0 L128.0,101.1 L129.0,103.8 L130.0,108.8 L131.0,113.2 L132.0,115.2 L133.0,115.6 L134.0,115.9 L135.0,117.2 L136.0,118.9 L137.0,120.8 L138.0,122.8 L139.0,125.5 L140.0,127.9 L141.0,129.9 L142.0,132.0 L143.0,134.4 L144.0,138.0 L145.0,141.8 L146.0,143.8 L147.0,145.8 L148.0,149.5 L149.0,152.5 L150.0,154.9 L151.0,155.5 L152.0,155.9 L153.0,157.6 L154.0,161.3 L155.0,163.6 L156.0,162.9 L157.0,163.5 L158.0,165.3 L159.0,166.1 L160.0,167.4 L161.0,169.1 L162.0,171.2 L163.0,173.0 L164.0,173.8 L165.0,174.5 L166.0,174.7 L167.0,174.6 L168.0,173.7 L169.0,174.8 L170.0,177.2 L171.0,177.9 L172.0,178.9 L173.0,179.8 L174.0,180.5 L175.0,180.5 L176.0,180.0 L177.0,178.8 L178.0,177.7 L179.0,177.4 L180.0,177.4 L181.0,177.2 L182.0,177.8 L183.0,179.1 L184.0,180.2 L185.0,180.1 L186.0,180.3 L187.0,182.8 L188.0,185.2 L189.0,186.5 L190.0,185.8 L191.0,184.2 L192.0,184.5 L193.0,186.5 L194.0,186.6 L195.0,186.9 L196.0,185.9 L197.0,183.1 L198.0,182.6 L199.0,183.0 L200.0,183.1 L201.0,183.5 L202.0,184.4 L203.0,185.2 L204.0,185.9 L205.0,188.0 L206.0,189.7 L207.0,190.8 L208.0,191.6 L209.0,193.0 L210.0,193.9 L211.0,193.8 L212.0,193.8 L213.0,193.5 L214.0,193.2 L215.0,193.3 L216.0,193.6 L217.0,194.5 L218.0,194.8 L219.0,194.6 L220.0,193.9 L221.0,194.7 L222.0,194.0 L223.0,193.7 L224.0,194.1 L225.0,194.5 L226.0,194.9 L227.0,194.3 L228.0,193.7 L229.0,194.9 L230.0,196.9 L231.0,196.4 L232.0,195.5 L233.0,195.9 L234.0,196.7 L235.0,198.6 L236.0,198.1 L237.0,199.2 L238.0,199.6 L239.0,198.8 L240.0,200.4 L241.0,202.1 L242.0,202.2 L243.0,202.4 L244.0,203.0 L245.0,202.9 L246.0,202.7 L247.0,202.7 L248.0,202.7 L249.0,202.1 L250.0,202.4 L251.0,201.2 L252.0,200.4 L253.0,201.9 L254.0,203.3 L255.0,202.3 L256.0,200.8 L257.0,200.8 L258.0,200.3 L259.0,200.2 L260.0,199.5 L261.0,198.2 L262.0,199.3 L263.0,199.3 L264.0,198.8 L265.0,198.1 L266.0,198.1 L267.0,199.6 L268.0,202.1 L269.0,202.9 L270.0,201.6 L271.0,200.7 L272.0,198.4 L273.0,196.4 L274.0,197.4 L275.0,197.8 L276.0,196.9 L277.0,196.9 L278.0,196.3 L279.0,194.3 L280.0,193.4 L281.0,194.4 L282.0,195.4 L283.0,196.5 L284.0,199.0 L285.0,200.3 L286.0,199.9 L287.0,201.1 L288.0,202.7 L289.0,203.6 L290.0,204.0 L291.0,204.0 L292.0,206.0 L293.0,208.1 L294.0,207.6 L295.0,206.7 L296.0,207.9 L297.0,208.7 L298.0,207.4 L299.0,206.5 L300.0,206.5 L301.0,204.8 L302.0,204.7 L303.0,204.1 L304.0,203.6 L305.0,205.0 L306.0,204.4 L307.0,203.1 L308.0,203.5" fill="none" stroke="#000" stroke-width="1.7" stroke-linejoin="round"/>
<path d="M58.0,213.8 L59.0,214.7 L60.0,215.5 L61.0,215.8 L62.0,215.8 L63.0,215.7 L64.0,215.8 L65.0,214.5 L66.0,214.7 L67.0,214.1 L68.0,215.9 L69.0,215.8 L70.0,216.8 L71.0,216.6 L72.0,212.9 L73.0,214.0 L74.0,216.8 L75.0,218.5 L76.0,219.0 L77.0,218.0 L78.0,217.0 L79.0,216.3 L80.0,216.2 L81.0,216.6 L82.0,217.4 L83.0,217.1 L84.0,218.1 L85.0,219.5 L86.0,218.4 L87.0,215.9 L88.0,215.7 L89.0,216.0 L90.0,213.5 L91.0,211.3 L92.0,212.8 L93.0,215.3 L94.0,215.3 L95.0,215.3 L96.0,215.8 L97.0,216.0 L98.0,218.5 L99.0,217.1 L100.0,216.6 L101.0,217.8 L102.0,214.8 L103.0,215.3 L104.0,214.9 L105.0,213.7 L106.0,212.4 L107.0,211.2 L108.0,210.1 L109.0,209.2 L110.0,208.6 L111.0,208.0 L112.0,207.0 L113.0,205.9 L114.0,206.3 L115.0,206.6 L116.0,206.6 L117.0,206.6 L118.0,207.1 L119.0,207.8 L120.0,208.4 L121.0,209.8 L122.0,210.4 L123.0,209.5 L124.0,208.9 L125.0,209.5 L126.0,210.0 L127.0,210.3 L128.0,210.7 L129.0,211.6 L130.0,211.7 L131.0,211.7 L132.0,211.0 L133.0,211.4 L134.0,211.4 L135.0,210.7 L136.0,211.0 L137.0,211.2 L138.0,211.3 L139.0,211.7 L140.0,212.1 L141.0,213.1 L142.0,213.7 L143.0,213.5 L144.0,213.0 L145.0,213.6 L146.0,214.6 L147.0,214.1 L148.0,213.6 L149.0,213.7 L150.0,214.5 L151.0,215.2 L152.0,215.2 L153.0,215.0 L154.0,214.8 L155.0,214.5 L156.0,214.3 L157.0,213.8 L158.0,214.3 L159.0,214.7 L160.0,214.2 L161.0,214.8 L162.0,214.4 L163.0,212.9 L164.0,211.9 L165.0,212.0 L166.0,213.1 L167.0,214.5 L168.0,215.5 L169.0,216.7 L170.0,216.9 L171.0,214.3 L172.0,212.0 L173.0,211.6 L174.0,211.9 L175.0,213.0 L176.0,214.4 L177.0,215.1 L178.0,213.8 L179.0,213.9 L180.0,214.3 L181.0,214.4 L182.0,215.2 L183.0,216.6 L184.0,215.7 L185.0,215.3 L186.0,215.8 L187.0,216.2 L188.0,216.3 L189.0,214.4 L190.0,214.0 L191.0,214.3 L192.0,215.0 L193.0,215.5 L194.0,213.8 L195.0,212.7 L196.0,213.6 L197.0,214.2 L198.0,215.3 L199.0,216.5 L200.0,217.5 L201.0,216.2 L202.0,214.7 L203.0,215.5 L204.0,216.3 L205.0,215.6 L206.0,214.9 L207.0,214.5 L208.0,214.1 L209.0,214.4 L210.0,215.9 L211.0,215.3 L212.0,214.3 L213.0,215.5 L214.0,215.6 L215.0,215.4 L216.0,215.7 L217.0,215.3 L218.0,213.3 L219.0,214.2 L220.0,215.3 L221.0,214.3 L222.0,212.7 L223.0,213.1 L224.0,215.1 L225.0,215.6 L226.0,213.4 L227.0,213.7 L228.0,215.1 L229.0,215.7 L230.0,216.3 L231.0,216.8 L232.0,215.7 L233.0,213.8 L234.0,213.6 L235.0,213.8 L236.0,215.3 L237.0,217.2 L238.0,218.0 L239.0,218.7 L240.0,218.2 L241.0,217.4 L242.0,216.4 L243.0,214.9 L244.0,215.0 L245.0,216.0 L246.0,216.4 L247.0,215.6 L248.0,213.9 L249.0,213.2 L250.0,214.3 L251.0,216.4 L252.0,216.2 L253.0,216.0 L254.0,215.4 L255.0,214.8 L256.0,214.6 L257.0,214.6 L258.0,215.3 L259.0,215.3 L260.0,214.1 L261.0,214.4 L262.0,214.5 L263.0,214.8 L264.0,216.2 L265.0,216.3 L266.0,214.5 L267.0,215.1 L268.0,216.4 L269.0,215.6 L270.0,213.9 L271.0,214.5 L272.0,214.4 L273.0,214.5 L274.0,214.9 L275.0,214.2 L276.0,214.9 L277.0,215.4 L278.0,214.1 L279.0,214.4 L280.0,216.0 L281.0,215.2 L282.0,215.3 L283.0,214.6 L284.0,214.3 L285.0,214.2 L286.0,214.5 L287.0,214.2 L288.0,213.4 L289.0,214.2 L290.0,214.8 L291.0,213.0 L292.0,211.9 L293.0,213.2 L294.0,213.7 L295.0,214.1 L296.0,213.6 L297.0,213.2 L298.0,213.8 L299.0,214.5 L300.0,214.0 L301.0,212.3 L302.0,211.6 L303.0,212.7 L304.0,214.7 L305.0,214.3 L306.0,213.1 L307.0,213.9 L308.0,214.6" fill="none" stroke="#000" stroke-width="1.7" stroke-linejoin="round"/>
</g>
<g clip-path="url(#clipB)">
<path d="M414.0,215.6 L415.0,216.1 L416.0,216.0 L417.0,215.8 L418.0,216.3 L419.0,216.1 L420.0,215.1 L421.0,214.9 L422.0,215.0 L423.0,215.4 L424.0,216.2 L425.0,217.0 L426.0,217.1 L427.0,216.6 L428.0,216.3 L429.0,216.8 L430.0,217.2 L431.0,216.8 L432.0,216.8 L433.0,216.7 L434.0,216.0 L435.0,215.5 L436.0,215.9 L437.0,216.4 L438.0,217.1 L439.0,217.7 L440.0,217.5 L441.0,216.9 L442.0,217.0 L443.0,217.2 L444.0,217.0 L445.0,216.9 L446.0,216.9 L447.0,216.9 L448.0,216.6 L449.0,216.1 L450.0,216.2 L451.0,216.2 L452.0,215.8 L453.0,216.1 L454.0,216.9 L455.0,216.5 L456.0,215.8 L457.0,216.1 L458.0,216.8 L459.0,216.0 L460.0,215.4 L461.0,214.4 L462.0,212.9" fill="none" stroke="#e31a1c" stroke-width="1.9" stroke-linejoin="round"/>
<path d="M414.0,216.1 L415.0,216.3 L416.0,216.4 L417.0,217.0 L418.0,216.7 L419.0,215.4 L420.0,213.7 L421.0,213.7 L422.0,215.0 L423.0,216.0 L424.0,216.3 L425.0,217.6 L426.0,217.3 L427.0,216.8 L428.0,216.9 L429.0,217.3 L430.0,217.3 L431.0,216.9 L432.0,217.4 L433.0,216.5 L434.0,216.4 L435.0,216.3 L436.0,216.4 L437.0,217.1 L438.0,217.5 L439.0,217.8 L440.0,216.8 L441.0,217.0 L442.0,218.2 L443.0,219.5 L444.0,219.3 L445.0,218.6 L446.0,218.7 L447.0,217.6 L448.0,216.1 L449.0,216.8 L450.0,217.4 L451.0,217.0 L452.0,217.7 L453.0,216.9 L454.0,215.9 L455.0,215.6 L456.0,214.3 L457.0,214.2 L458.0,214.8 L459.0,215.9 L460.0,215.7 L461.0,215.5 L462.0,215.8 L463.0,211.7 L464.0,202.7 L465.0,194.9 L466.0,189.4 L467.0,183.9 L468.0,179.1 L469.0,175.8 L470.0,172.4 L471.0,169.6 L472.0,167.8 L473.0,166.4 L474.0,165.1 L475.0,164.7 L476.0,165.1 L477.0,165.5 L478.0,166.1 L479.0,166.8 L480.0,167.1 L481.0,168.6 L482.0,170.4 L483.0,171.3 L484.0,172.5 L485.0,174.0 L486.0,175.2 L487.0,176.1 L488.0,176.8 L489.0,178.0 L490.0,179.2 L491.0,180.5 L492.0,181.2 L493.0,182.1 L494.0,183.3 L495.0,184.6 L496.0,185.6 L497.0,186.4 L498.0,186.9 L499.0,187.7 L500.0,188.6 L501.0,189.8 L502.0,190.8 L503.0,191.3 L504.0,192.3 L505.0,193.9 L506.0,194.9 L507.0,195.4 L508.0,196.0 L509.0,197.1 L510.0,198.4 L511.0,199.0 L512.0,199.3 L513.0,199.8 L514.0,200.3 L515.0,200.8 L516.0,200.9 L517.0,200.4 L518.0,200.9 L519.0,201.2 L520.0,202.2 L521.0,202.9 L522.0,201.7 L523.0,201.6 L524.0,202.1 L525.0,202.9 L526.0,205.3 L527.0,205.7 L528.0,206.3 L529.0,206.5 L530.0,207.2 L531.0,207.2 L532.0,206.8 L533.0,206.9 L534.0,206.7 L535.0,207.4 L536.0,208.5 L537.0,207.6 L538.0,208.3 L539.0,210.4 L540.0,209.8 L541.0,210.0 L542.0,210.8 L543.0,209.6 L544.0,209.8 L545.0,211.4 L546.0,210.9 L547.0,210.4 L548.0,210.3 L549.0,210.2 L550.0,209.4 L551.0,210.8 L552.0,212.5 L553.0,212.5 L554.0,211.7 L555.0,213.0 L556.0,214.4 L557.0,213.3 L558.0,212.5 L559.0,211.1 L560.0,210.3 L561.0,211.6 L562.0,211.2 L563.0,211.2 L564.0,212.2 L565.0,212.7 L566.0,213.2 L567.0,214.2 L568.0,213.7 L569.0,212.7 L570.0,212.4 L571.0,213.0 L572.0,211.1 L573.0,209.8 L574.0,211.7 L575.0,214.1 L576.0,215.1 L577.0,215.6 L578.0,215.2 L579.0,214.7 L580.0,214.2 L581.0,213.2 L582.0,213.0 L583.0,213.4 L584.0,213.6 L585.0,213.0 L586.0,213.4 L587.0,214.3 L588.0,214.3 L589.0,213.9 L590.0,213.4 L591.0,212.2 L592.0,212.0 L593.0,213.5 L594.0,215.7 L595.0,216.2 L596.0,215.9 L597.0,216.0 L598.0,214.8 L599.0,212.4 L600.0,213.6 L601.0,216.5 L602.0,217.6 L603.0,217.2 L604.0,217.9 L605.0,217.4 L606.0,215.5 L607.0,213.7 L608.0,213.6 L609.0,214.8 L610.0,215.5 L611.0,215.8 L612.0,216.5 L613.0,216.6 L614.0,216.3 L615.0,216.3 L616.0,215.3 L617.0,213.2 L618.0,213.6 L619.0,215.9 L620.0,217.0 L621.0,216.4 L622.0,216.0 L623.0,216.6 L624.0,216.9 L625.0,215.8 L626.0,214.5 L627.0,216.2 L628.0,217.7 L629.0,218.3 L630.0,218.6 L631.0,215.6 L632.0,215.9 L633.0,219.2 L634.0,216.3 L635.0,213.8 L636.0,215.7 L637.0,217.5 L638.0,216.9 L639.0,217.2 L640.0,219.3 L641.0,220.8 L642.0,219.9 L643.0,218.6 L644.0,218.3 L645.0,220.2 L646.0,221.1 L647.0,217.9 L648.0,216.6 L649.0,217.9 L650.0,219.5 L651.0,219.6 L652.0,218.7 L653.0,219.0 L654.0,220.6 L655.0,221.0 L656.0,220.9 L657.0,220.3 L658.0,220.3 L659.0,220.1 L660.0,221.3 L661.0,220.1 L662.0,219.4 L663.0,220.0 L664.0,219.6 L665.0,219.4" fill="none" stroke="#000" stroke-width="1.7" stroke-linejoin="round"/>
<path d="M414.0,215.3 L415.0,215.5 L416.0,215.2 L417.0,216.9 L418.0,217.7 L419.0,217.5 L420.0,215.2 L421.0,213.2 L422.0,213.9 L423.0,216.3 L424.0,218.6 L425.0,218.5 L426.0,217.6 L427.0,215.8 L428.0,215.3 L429.0,216.2 L430.0,217.1 L431.0,216.2 L432.0,216.5 L433.0,217.4 L434.0,216.1 L435.0,215.3 L436.0,214.8 L437.0,215.9 L438.0,217.5 L439.0,217.1 L440.0,214.2 L441.0,213.3 L442.0,216.3 L443.0,217.8 L444.0,216.5 L445.0,216.2 L446.0,215.2 L447.0,212.7 L448.0,212.4 L449.0,214.9 L450.0,215.8 L451.0,214.6 L452.0,214.7 L453.0,214.6 L454.0,214.2 L455.0,214.8 L456.0,216.7 L457.0,216.5 L458.0,215.7 L459.0,215.9 L460.0,216.0 L461.0,215.9 L462.0,209.6 L463.0,196.4 L464.0,185.0 L465.0,177.5 L466.0,170.6 L467.0,164.3 L468.0,159.4 L469.0,155.5 L470.0,152.3 L471.0,149.0 L472.0,146.6 L473.0,144.9 L474.0,143.7 L475.0,143.2 L476.0,143.7 L477.0,144.7 L478.0,146.1 L479.0,147.3 L480.0,148.9 L481.0,150.6 L482.0,152.1 L483.0,153.5 L484.0,155.1 L485.0,156.6 L486.0,158.1 L487.0,159.9 L488.0,161.2 L489.0,163.1 L490.0,165.1 L491.0,166.7 L492.0,168.2 L493.0,170.1 L494.0,171.5 L495.0,172.9 L496.0,174.5 L497.0,176.5 L498.0,179.0 L499.0,180.6 L500.0,180.4 L501.0,182.2 L502.0,184.3 L503.0,185.6 L504.0,186.3 L505.0,187.5 L506.0,189.0 L507.0,189.5 L508.0,190.1 L509.0,191.2 L510.0,192.6 L511.0,193.8 L512.0,193.7 L513.0,194.0 L514.0,193.7 L515.0,195.0 L516.0,196.3 L517.0,197.8 L518.0,198.5 L519.0,198.8 L520.0,198.9 L521.0,198.3 L522.0,197.5 L523.0,198.4 L524.0,199.0 L525.0,200.1 L526.0,200.1 L527.0,200.3 L528.0,200.6 L529.0,201.2 L530.0,201.9 L531.0,201.9 L532.0,201.8 L533.0,202.8 L534.0,202.1 L535.0,201.2 L536.0,200.7 L537.0,202.9 L538.0,205.1 L539.0,205.7 L540.0,205.3 L541.0,204.7 L542.0,203.9 L543.0,204.0 L544.0,204.6 L545.0,204.7 L546.0,204.2 L547.0,205.0 L548.0,206.3 L549.0,206.4 L550.0,205.9 L551.0,205.7 L552.0,206.8 L553.0,208.0 L554.0,209.0 L555.0,208.6 L556.0,208.2 L557.0,207.6 L558.0,208.6 L559.0,207.4 L560.0,207.3 L561.0,207.6 L562.0,207.5 L563.0,207.8 L564.0,208.1 L565.0,209.1 L566.0,210.2 L567.0,211.5 L568.0,212.5 L569.0,212.5 L570.0,210.9 L571.0,210.4 L572.0,212.3 L573.0,210.5 L574.0,207.9 L575.0,209.6 L576.0,209.9 L577.0,209.1 L578.0,209.3 L579.0,209.7 L580.0,209.7 L581.0,210.3 L582.0,210.5 L583.0,210.7 L584.0,211.5 L585.0,212.4 L586.0,213.2 L587.0,211.9 L588.0,210.4 L589.0,211.7 L590.0,214.1 L591.0,213.8 L592.0,211.8 L593.0,211.6 L594.0,211.0 L595.0,210.1 L596.0,208.7 L597.0,208.7 L598.0,210.5 L599.0,212.0 L600.0,212.0 L601.0,211.0 L602.0,211.2 L603.0,211.6 L604.0,210.3 L605.0,208.1 L606.0,209.4 L607.0,211.8 L608.0,212.4 L609.0,211.8 L610.0,211.4 L611.0,209.9 L612.0,211.8 L613.0,212.0 L614.0,211.5 L615.0,210.6 L616.0,210.4 L617.0,211.4 L618.0,211.8 L619.0,211.7 L620.0,212.7 L621.0,212.6 L622.0,212.2 L623.0,211.6 L624.0,211.6 L625.0,211.7 L626.0,211.5 L627.0,212.3 L628.0,211.9 L629.0,212.2 L630.0,211.7 L631.0,212.0 L632.0,212.9 L633.0,215.1 L634.0,215.7 L635.0,214.0 L636.0,213.9 L637.0,214.4 L638.0,215.1 L639.0,216.1 L640.0,216.3 L641.0,213.8 L642.0,212.0 L643.0,213.3 L644.0,213.6 L645.0,214.2 L646.0,216.0 L647.0,216.5 L648.0,215.7 L649.0,215.9 L650.0,215.7 L651.0,215.4 L652.0,215.2 L653.0,215.5 L654.0,214.4 L655.0,214.6 L656.0,214.9 L657.0,214.0 L658.0,214.7 L659.0,215.7 L660.0,216.6 L661.0,216.0 L662.0,213.6 L663.0,215.0 L664.0,216.2 L665.0,216.7" fill="none" stroke="#000" stroke-width="1.7" stroke-linejoin="round"/>
<path d="M414.0,216.1 L415.0,215.7 L416.0,215.6 L417.0,215.6 L418.0,215.2 L419.0,216.4 L420.0,217.2 L421.0,216.3 L422.0,217.2 L423.0,218.4 L424.0,215.9 L425.0,214.4 L426.0,216.1 L427.0,218.5 L428.0,218.4 L429.0,216.4 L430.0,216.4 L431.0,216.2 L432.0,215.0 L433.0,214.7 L434.0,216.1 L435.0,216.0 L436.0,216.4 L437.0,217.3 L438.0,218.5 L439.0,217.7 L440.0,215.7 L441.0,216.0 L442.0,216.5 L443.0,215.3 L444.0,215.4 L445.0,215.5 L446.0,214.2 L447.0,213.7 L448.0,214.2 L449.0,215.5 L450.0,216.1 L451.0,216.9 L452.0,216.9 L453.0,216.7 L454.0,216.6 L455.0,216.7 L456.0,215.9 L457.0,215.7 L458.0,217.2 L459.0,216.6 L460.0,216.6 L461.0,206.9 L462.0,187.0 L463.0,169.2 L464.0,156.8 L465.0,146.1 L466.0,137.1 L467.0,129.5 L468.0,123.7 L469.0,119.5 L470.0,116.8 L471.0,115.3 L472.0,114.1 L473.0,113.5 L474.0,113.2 L475.0,113.3 L476.0,114.5 L477.0,115.9 L478.0,117.4 L479.0,119.0 L480.0,121.5 L481.0,124.7 L482.0,128.3 L483.0,130.9 L484.0,133.5 L485.0,135.6 L486.0,137.2 L487.0,139.3 L488.0,141.3 L489.0,143.1 L490.0,145.1 L491.0,147.3 L492.0,149.9 L493.0,152.4 L494.0,154.3 L495.0,156.4 L496.0,159.2 L497.0,161.2 L498.0,163.1 L499.0,165.0 L500.0,167.0 L501.0,169.3 L502.0,171.2 L503.0,173.0 L504.0,174.5 L505.0,176.3 L506.0,179.3 L507.0,182.0 L508.0,183.5 L509.0,185.1 L510.0,185.9 L511.0,186.5 L512.0,187.1 L513.0,188.6 L514.0,190.6 L515.0,191.2 L516.0,190.8 L517.0,191.7 L518.0,193.0 L519.0,193.5 L520.0,194.1 L521.0,194.4 L522.0,195.8 L523.0,197.2 L524.0,197.5 L525.0,197.5 L526.0,197.7 L527.0,198.1 L528.0,199.0 L529.0,200.4 L530.0,201.0 L531.0,200.3 L532.0,199.5 L533.0,200.1 L534.0,201.2 L535.0,201.3 L536.0,201.3 L537.0,203.4 L538.0,204.6 L539.0,203.2 L540.0,203.7 L541.0,205.0 L542.0,204.2 L543.0,204.0 L544.0,204.9 L545.0,205.4 L546.0,205.4 L547.0,205.4 L548.0,204.6 L549.0,205.8 L550.0,206.5 L551.0,206.4 L552.0,206.7 L553.0,207.2 L554.0,207.7 L555.0,206.8 L556.0,206.0 L557.0,205.0 L558.0,205.2 L559.0,205.6 L560.0,205.1 L561.0,205.2 L562.0,205.5 L563.0,206.6 L564.0,207.9 L565.0,207.9 L566.0,206.4 L567.0,207.4 L568.0,209.6 L569.0,210.6 L570.0,209.7 L571.0,207.4 L572.0,207.6 L573.0,209.3 L574.0,210.0 L575.0,209.6 L576.0,209.3 L577.0,208.9 L578.0,208.4 L579.0,209.2 L580.0,209.9 L581.0,209.7 L582.0,209.0 L583.0,206.9 L584.0,208.7 L585.0,211.5 L586.0,212.0 L587.0,211.7 L588.0,210.1 L589.0,208.6 L590.0,209.6 L591.0,210.5 L592.0,208.5 L593.0,207.7 L594.0,207.8 L595.0,208.9 L596.0,210.1 L597.0,210.8 L598.0,211.0 L599.0,212.6 L600.0,212.2 L601.0,210.4 L602.0,209.3 L603.0,209.4 L604.0,211.7 L605.0,213.4 L606.0,211.9 L607.0,210.6 L608.0,210.9 L609.0,210.8 L610.0,209.9 L611.0,209.7 L612.0,211.9 L613.0,214.3 L614.0,214.8 L615.0,214.2 L616.0,213.6 L617.0,213.8 L618.0,214.0 L619.0,213.4 L620.0,213.1 L621.0,213.3 L622.0,213.8 L623.0,213.2 L624.0,214.1 L625.0,215.1 L626.0,215.2 L627.0,214.6 L628.0,213.4 L629.0,212.9 L630.0,213.1 L631.0,213.0 L632.0,212.6 L633.0,213.0 L634.0,213.1 L635.0,213.4 L636.0,214.2 L637.0,214.3 L638.0,215.6 L639.0,217.4 L640.0,217.6 L641.0,216.6 L642.0,216.7 L643.0,217.4 L644.0,219.0 L645.0,219.1 L646.0,217.8 L647.0,216.3 L648.0,216.0 L649.0,216.6 L650.0,216.4 L651.0,216.4 L652.0,216.4 L653.0,214.7 L654.0,213.6 L655.0,214.3 L656.0,215.1 L657.0,216.0 L658.0,216.0 L659.0,215.8 L660.0,215.9 L661.0,218.3 L662.0,218.3 L663.0,217.4 L664.0,218.5 L665.0,219.8" fill="none" stroke="#000" stroke-width="1.7" stroke-linejoin="round"/>
<path d="M414.0,215.8 L415.0,215.4 L416.0,216.5 L417.0,216.3 L418.0,215.4 L419.0,216.2 L420.0,218.2 L421.0,217.0 L422.0,215.2 L423.0,215.8 L424.0,217.6 L425.0,217.2 L426.0,218.0 L427.0,217.4 L428.0,215.2 L429.0,216.5 L430.0,216.1 L431.0,214.8 L432.0,215.5 L433.0,216.8 L434.0,217.1 L435.0,216.7 L436.0,216.4 L437.0,218.2 L438.0,219.5 L439.0,219.7 L440.0,219.4 L441.0,220.0 L442.0,219.9 L443.0,218.6 L444.0,218.0 L445.0,217.7 L446.0,217.5 L447.0,216.6 L448.0,214.7 L449.0,215.2 L450.0,215.4 L451.0,213.5 L452.0,214.3 L453.0,216.5 L454.0,215.5 L455.0,215.3 L456.0,215.9 L457.0,215.2 L458.0,214.6 L459.0,215.7 L460.0,211.0 L461.0,184.3 L462.0,155.3 L463.0,122.8 L464.0,101.4 L465.0,86.9 L466.0,79.7 L467.0,76.4 L468.0,76.9 L469.0,78.1 L470.0,80.2 L471.0,82.0 L472.0,83.8 L473.0,86.5 L474.0,89.2 L475.0,91.5 L476.0,93.5 L477.0,95.8 L478.0,99.1 L479.0,101.5 L480.0,103.6 L481.0,106.8 L482.0,109.7 L483.0,112.8 L484.0,116.1 L485.0,119.7 L486.0,123.2 L487.0,126.9 L488.0,131.2 L489.0,136.5 L490.0,141.7 L491.0,147.2 L492.0,150.6 L493.0,152.6 L494.0,154.6 L495.0,156.5 L496.0,158.6 L497.0,160.5 L498.0,162.0 L499.0,164.0 L500.0,165.9 L501.0,167.5 L502.0,169.1 L503.0,170.2 L504.0,172.5 L505.0,175.6 L506.0,177.8 L507.0,180.1 L508.0,182.1 L509.0,183.1 L510.0,183.1 L511.0,183.1 L512.0,182.9 L513.0,183.6 L514.0,184.5 L515.0,185.4 L516.0,186.9 L517.0,188.4 L518.0,188.4 L519.0,188.6 L520.0,190.1 L521.0,190.8 L522.0,190.8 L523.0,191.8 L524.0,192.2 L525.0,193.0 L526.0,194.3 L527.0,195.7 L528.0,195.7 L529.0,196.4 L530.0,197.9 L531.0,199.3 L532.0,199.5 L533.0,198.9 L534.0,200.1 L535.0,200.9 L536.0,201.8 L537.0,201.7 L538.0,200.7 L539.0,200.8 L540.0,201.4 L541.0,202.8 L542.0,203.9 L543.0,203.0 L544.0,203.3 L545.0,204.9 L546.0,203.4 L547.0,203.2 L548.0,203.2 L549.0,203.2 L550.0,205.2 L551.0,206.2 L552.0,205.5 L553.0,205.2 L554.0,204.4 L555.0,203.7 L556.0,204.6 L557.0,204.3 L558.0,204.9 L559.0,207.1 L560.0,207.8 L561.0,207.4 L562.0,209.3 L563.0,210.4 L564.0,209.0 L565.0,208.2 L566.0,208.1 L567.0,207.6 L568.0,207.7 L569.0,209.4 L570.0,209.8 L571.0,208.7 L572.0,208.1 L573.0,208.0 L574.0,207.7 L575.0,207.3 L576.0,208.0 L577.0,210.1 L578.0,210.3 L579.0,211.2 L580.0,212.4 L581.0,211.3 L582.0,210.5 L583.0,209.3 L584.0,210.0 L585.0,211.4 L586.0,210.5 L587.0,208.8 L588.0,209.1 L589.0,210.8 L590.0,211.4 L591.0,212.6 L592.0,212.8 L593.0,212.3 L594.0,212.8 L595.0,213.6 L596.0,212.9 L597.0,212.2 L598.0,213.0 L599.0,213.1 L600.0,213.5 L601.0,214.6 L602.0,215.3 L603.0,215.5 L604.0,214.4 L605.0,213.8 L606.0,214.2 L607.0,214.7 L608.0,214.0 L609.0,213.9 L610.0,213.7 L611.0,214.2 L612.0,216.3 L613.0,218.4 L614.0,217.1 L615.0,216.5 L616.0,216.5 L617.0,216.5 L618.0,217.7 L619.0,219.1 L620.0,218.7 L621.0,219.3 L622.0,218.4 L623.0,216.5 L624.0,216.1 L625.0,216.2 L626.0,216.9 L627.0,219.0 L628.0,219.4 L629.0,218.7 L630.0,217.7 L631.0,218.4 L632.0,219.6 L633.0,221.4 L634.0,220.3 L635.0,219.7 L636.0,219.6 L637.0,218.8 L638.0,218.6 L639.0,219.4 L640.0,220.1 L641.0,219.4 L642.0,219.6 L643.0,220.1 L644.0,219.2 L645.0,217.9 L646.0,218.1 L647.0,219.0 L648.0,219.9 L649.0,221.5 L650.0,221.5 L651.0,220.7 L652.0,220.4 L653.0,221.3 L654.0,220.8 L655.0,220.2 L656.0,221.8 L657.0,224.0 L658.0,222.2 L659.0,221.6 L660.0,223.6 L661.0,223.8 L662.0,223.4 L663.0,223.4 L664.0,221.5 L665.0,220.9" fill="none" stroke="#000" stroke-width="1.7" stroke-linejoin="round"/>
<path d="M414.0,217.8 L415.0,216.6 L416.0,215.6 L417.0,215.9 L418.0,216.6 L419.0,217.5 L420.0,217.8 L421.0,217.9 L422.0,216.6 L423.0,216.8 L424.0,216.6 L425.0,215.1 L426.0,215.1 L427.0,217.1 L428.0,217.3 L429.0,216.6 L430.0,216.4 L431.0,215.8 L432.0,215.9 L433.0,215.9 L434.0,216.7 L435.0,217.4 L436.0,216.8 L437.0,216.6 L438.0,215.3 L439.0,214.7 L440.0,214.5 L441.0,215.5 L442.0,216.1 L443.0,216.0 L444.0,216.6 L445.0,218.3 L446.0,218.0 L447.0,216.2 L448.0,216.0 L449.0,214.4 L450.0,214.4 L451.0,215.5 L452.0,215.6 L453.0,214.6 L454.0,214.7 L455.0,215.4 L456.0,215.0 L457.0,215.3 L458.0,216.9 L459.0,216.3 L460.0,199.6 L461.0,170.0 L462.0,138.4 L463.0,109.8 L464.0,91.2 L465.0,79.7 L466.0,75.2 L467.0,75.1 L468.0,75.9 L469.0,77.1 L470.0,78.5 L471.0,79.8 L472.0,80.8 L473.0,82.1 L474.0,84.0 L475.0,86.6 L476.0,90.3 L477.0,93.8 L478.0,96.6 L479.0,98.8 L480.0,101.1 L481.0,103.2 L482.0,104.6 L483.0,105.8 L484.0,107.3 L485.0,109.7 L486.0,111.7 L487.0,114.0 L488.0,117.3 L489.0,120.0 L490.0,122.6 L491.0,125.9 L492.0,129.4 L493.0,132.4 L494.0,134.6 L495.0,137.8 L496.0,141.3 L497.0,144.0 L498.0,144.7 L499.0,145.2 L500.0,147.8 L501.0,151.1 L502.0,154.2 L503.0,156.8 L504.0,158.8 L505.0,161.5 L506.0,165.1 L507.0,167.4 L508.0,168.9 L509.0,170.8 L510.0,172.6 L511.0,173.0 L512.0,174.2 L513.0,176.3 L514.0,177.7 L515.0,178.2 L516.0,179.2 L517.0,181.1 L518.0,182.8 L519.0,183.2 L520.0,183.7 L521.0,183.5 L522.0,181.8 L523.0,181.9 L524.0,183.3 L525.0,184.3 L526.0,185.8 L527.0,187.4 L528.0,187.9 L529.0,188.4 L530.0,188.4 L531.0,190.2 L532.0,192.6 L533.0,192.7 L534.0,193.4 L535.0,194.0 L536.0,193.9 L537.0,194.7 L538.0,195.4 L539.0,195.7 L540.0,194.7 L541.0,194.0 L542.0,195.1 L543.0,197.3 L544.0,199.4 L545.0,200.1 L546.0,200.5 L547.0,201.7 L548.0,202.9 L549.0,203.0 L550.0,203.5 L551.0,202.0 L552.0,202.3 L553.0,204.2 L554.0,204.1 L555.0,202.9 L556.0,203.0 L557.0,203.7 L558.0,205.3 L559.0,205.4 L560.0,204.6 L561.0,205.1 L562.0,205.2 L563.0,205.5 L564.0,205.8 L565.0,205.9 L566.0,207.1 L567.0,207.9 L568.0,208.4 L569.0,208.5 L570.0,206.5 L571.0,204.9 L572.0,205.9 L573.0,207.2 L574.0,207.9 L575.0,208.6 L576.0,208.7 L577.0,207.7 L578.0,206.8 L579.0,206.8 L580.0,208.1 L581.0,207.1 L582.0,205.5 L583.0,205.5 L584.0,207.5 L585.0,209.9 L586.0,208.8 L587.0,206.3 L588.0,207.1 L589.0,208.7 L590.0,209.4 L591.0,208.9 L592.0,208.3 L593.0,208.6 L594.0,207.2 L595.0,205.6 L596.0,206.8 L597.0,208.8 L598.0,211.1 L599.0,211.2 L600.0,209.4 L601.0,209.7 L602.0,209.4 L603.0,207.2 L604.0,206.8 L605.0,209.0 L606.0,209.9 L607.0,208.2 L608.0,206.6 L609.0,208.5 L610.0,209.2 L611.0,208.9 L612.0,209.1 L613.0,209.4 L614.0,210.8 L615.0,210.8 L616.0,210.3 L617.0,210.8 L618.0,210.1 L619.0,208.9 L620.0,209.6 L621.0,209.2 L622.0,208.2 L623.0,209.4 L624.0,210.9 L625.0,211.5 L626.0,213.6 L627.0,214.0 L628.0,212.4 L629.0,213.0 L630.0,213.9 L631.0,211.5 L632.0,209.8 L633.0,209.4 L634.0,208.5 L635.0,208.9 L636.0,210.6 L637.0,211.1 L638.0,211.8 L639.0,211.8 L640.0,210.7 L641.0,210.7 L642.0,210.6 L643.0,210.1 L644.0,210.3 L645.0,211.4 L646.0,211.8 L647.0,212.6 L648.0,213.7 L649.0,212.9 L650.0,210.4 L651.0,209.9 L652.0,211.0 L653.0,212.2 L654.0,212.4 L655.0,210.9 L656.0,211.0 L657.0,212.6 L658.0,214.3 L659.0,213.8 L660.0,211.3 L661.0,210.7 L662.0,211.2 L663.0,212.8 L664.0,212.8 L665.0,211.5" fill="none" stroke="#000" stroke-width="1.7" stroke-linejoin="round"/>
<path d="M414.0,215.5 L415.0,216.0 L416.0,216.1 L417.0,217.3 L418.0,217.7 L419.0,216.5 L420.0,214.5 L421.0,214.7 L422.0,217.6 L423.0,218.1 L424.0,218.3 L425.0,216.5 L426.0,215.0 L427.0,215.2 L428.0,215.1 L429.0,216.6 L430.0,218.5 L431.0,219.5 L432.0,220.2 L433.0,218.3 L434.0,216.5 L435.0,215.1 L436.0,215.0 L437.0,215.6 L438.0,215.3 L439.0,215.3 L440.0,215.3 L441.0,215.9 L442.0,217.1 L443.0,215.4 L444.0,216.1 L445.0,217.7 L446.0,217.6 L447.0,215.9 L448.0,216.2 L449.0,219.2 L450.0,219.6 L451.0,217.5 L452.0,216.3 L453.0,215.7 L454.0,215.0 L455.0,216.0 L456.0,217.4 L457.0,216.8 L458.0,215.5 L459.0,215.5 L460.0,215.0 L461.0,214.6 L462.0,214.8 L463.0,214.9 L464.0,214.7 L465.0,214.1 L466.0,213.9 L467.0,213.4 L468.0,212.6 L469.0,211.7 L470.0,211.1 L471.0,210.7 L472.0,210.0 L473.0,209.2 L474.0,209.0 L475.0,209.3 L476.0,209.7 L477.0,209.6 L478.0,209.4 L479.0,209.5 L480.0,209.7 L481.0,209.3 L482.0,208.9 L483.0,209.1 L484.0,209.4 L485.0,209.3 L486.0,209.0 L487.0,209.1 L488.0,209.6 L489.0,209.7 L490.0,209.4 L491.0,209.0 L492.0,209.4 L493.0,209.8 L494.0,209.7 L495.0,210.1 L496.0,210.1 L497.0,209.8 L498.0,209.4 L499.0,210.0 L500.0,209.9 L501.0,210.0 L502.0,210.4 L503.0,210.7 L504.0,210.2 L505.0,210.1 L506.0,209.7 L507.0,208.7 L508.0,208.5 L509.0,208.9 L510.0,209.9 L511.0,210.8 L512.0,211.4 L513.0,211.7 L514.0,211.1 L515.0,210.9 L516.0,212.1 L517.0,211.8 L518.0,210.8 L519.0,210.6 L520.0,211.4 L521.0,211.7 L522.0,212.9 L523.0,212.6 L524.0,211.5 L525.0,212.7 L526.0,213.9 L527.0,212.3 L528.0,211.7 L529.0,211.8 L530.0,213.9 L531.0,215.6 L532.0,214.8 L533.0,214.0 L534.0,213.8 L535.0,213.9 L536.0,214.4 L537.0,215.4 L538.0,214.8 L539.0,211.9 L540.0,211.8 L541.0,215.1 L542.0,215.7 L543.0,214.1 L544.0,214.5 L545.0,215.8 L546.0,216.4 L547.0,216.1 L548.0,215.9 L549.0,216.0 L550.0,216.5 L551.0,216.1 L552.0,215.5 L553.0,215.2 L554.0,215.5 L555.0,216.8 L556.0,217.1 L557.0,216.8 L558.0,216.7 L559.0,217.4 L560.0,216.7 L561.0,214.3 L562.0,213.1 L563.0,215.1 L564.0,217.8 L565.0,220.4 L566.0,220.6 L567.0,220.5 L568.0,220.6 L569.0,218.5 L570.0,218.3 L571.0,218.9 L572.0,218.4 L573.0,218.2 L574.0,218.6 L575.0,219.0 L576.0,218.8 L577.0,217.4 L578.0,219.3 L579.0,220.8 L580.0,219.0 L581.0,218.3 L582.0,219.4 L583.0,220.0 L584.0,220.1 L585.0,219.7 L586.0,220.2 L587.0,219.7 L588.0,217.7 L589.0,218.9 L590.0,219.7 L591.0,218.1 L592.0,218.2 L593.0,219.8 L594.0,219.7 L595.0,220.3 L596.0,221.2 L597.0,220.3 L598.0,218.5 L599.0,218.7 L600.0,217.9 L601.0,217.1 L602.0,219.2 L603.0,220.4 L604.0,219.8 L605.0,220.2 L606.0,220.2 L607.0,218.9 L608.0,217.6 L609.0,218.3 L610.0,217.1 L611.0,216.4 L612.0,218.2 L613.0,220.5 L614.0,221.2 L615.0,221.0 L616.0,219.8 L617.0,219.3 L618.0,218.5 L619.0,218.4 L620.0,219.1 L621.0,218.2 L622.0,217.0 L623.0,218.3 L624.0,219.4 L625.0,220.8 L626.0,219.9 L627.0,218.4 L628.0,217.8 L629.0,219.5 L630.0,219.4 L631.0,217.7 L632.0,217.2 L633.0,217.9 L634.0,219.5 L635.0,218.6 L636.0,218.9 L637.0,219.3 L638.0,221.8 L639.0,222.2 L640.0,220.5 L641.0,218.6 L642.0,218.2 L643.0,219.0 L644.0,218.6 L645.0,218.0 L646.0,219.3 L647.0,219.2 L648.0,218.2 L649.0,218.3 L650.0,219.2 L651.0,219.4 L652.0,218.8 L653.0,217.7 L654.0,217.4 L655.0,219.4 L656.0,218.5 L657.0,217.3 L658.0,217.6 L659.0,216.5 L660.0,215.7 L661.0,214.5 L662.0,215.7 L663.0,216.7 L664.0,218.1 L665.0,219.9" fill="none" stroke="#000" stroke-width="1.7" stroke-linejoin="round"/>
<path d="M455.0,216.5 L456.0,215.8 L457.0,216.1 L458.0,216.8 L459.0,216.0 L460.0,215.4 L461.0,214.4 L462.0,212.9 L463.0,211.0 L464.0,208.8 L465.0,206.7 L466.0,204.5 L467.0,202.0 L468.0,199.3 L469.0,196.4 L470.0,193.6 L471.0,191.3 L472.0,189.3 L473.0,188.1 L474.0,187.6 L475.0,187.6 L476.0,188.0 L477.0,188.1 L478.0,187.7 L479.0,187.8 L480.0,188.4 L481.0,188.8 L482.0,188.7 L483.0,188.9 L484.0,189.6 L485.0,190.1 L486.0,191.3 L487.0,193.3 L488.0,194.4 L489.0,194.6 L490.0,195.1 L491.0,195.7 L492.0,195.8 L493.0,196.5 L494.0,197.5 L495.0,197.9 L496.0,197.7 L497.0,197.7 L498.0,198.3 L499.0,199.0 L500.0,199.5 L501.0,199.6 L502.0,199.7 L503.0,199.9 L504.0,199.7 L505.0,199.9 L506.0,200.7 L507.0,201.3 L508.0,201.6 L509.0,201.7 L510.0,202.1 L511.0,203.0 L512.0,204.3 L513.0,205.0 L514.0,204.7 L515.0,204.4 L516.0,204.8 L517.0,205.4 L518.0,205.9 L519.0,206.1 L520.0,206.2 L521.0,206.3 L522.0,206.2 L523.0,206.0 L524.0,206.1 L525.0,206.6 L526.0,206.9 L527.0,206.8 L528.0,206.6 L529.0,207.0 L530.0,207.7 L531.0,207.9 L532.0,207.8 L533.0,208.2 L534.0,209.0 L535.0,209.1 L536.0,209.1 L537.0,210.0 L538.0,210.4 L539.0,210.1 L540.0,209.8 L541.0,209.6 L542.0,209.8 L543.0,209.8 L544.0,209.7 L545.0,210.2 L546.0,211.5 L547.0,212.2 L548.0,211.9 L549.0,211.5 L550.0,211.1 L551.0,211.1 L552.0,211.2 L553.0,211.3 L554.0,211.5 L555.0,211.7 L556.0,211.7 L557.0,211.9 L558.0,212.2 L559.0,212.3 L560.0,211.9 L561.0,211.8 L562.0,212.4 L563.0,213.3 L564.0,213.5 L565.0,212.9 L566.0,211.8 L567.0,211.4 L568.0,211.5 L569.0,212.0 L570.0,212.3 L571.0,212.6 L572.0,213.3 L573.0,213.5 L574.0,213.1 L575.0,212.7 L576.0,212.4 L577.0,212.9 L578.0,213.9 L579.0,214.6 L580.0,214.6 L581.0,214.0 L582.0,213.4 L583.0,213.3 L584.0,213.4 L585.0,213.4 L586.0,213.6 L587.0,213.8 L588.0,213.3 L589.0,212.9 L590.0,213.3 L591.0,213.6 L592.0,213.9 L593.0,213.8 L594.0,213.0 L595.0,212.5 L596.0,213.2 L597.0,214.5 L598.0,215.4 L599.0,215.2 L600.0,214.4 L601.0,214.1 L602.0,214.0 L603.0,213.8 L604.0,213.9 L605.0,214.3 L606.0,214.6 L607.0,214.9 L608.0,215.3 L609.0,215.0 L610.0,214.2 L611.0,213.6 L612.0,214.0 L613.0,214.7 L614.0,215.2 L615.0,215.5 L616.0,215.4 L617.0,214.5 L618.0,213.7 L619.0,213.7 L620.0,213.7 L621.0,213.9 L622.0,214.3 L623.0,214.5 L624.0,214.4 L625.0,214.2 L626.0,214.0 L627.0,214.2 L628.0,214.3 L629.0,214.7 L630.0,215.0 L631.0,214.7 L632.0,214.9 L633.0,215.3 L634.0,215.2 L635.0,215.3 L636.0,215.6 L637.0,215.4 L638.0,215.0 L639.0,214.2 L640.0,213.0 L641.0,212.7 L642.0,213.6 L643.0,214.4 L644.0,214.5 L645.0,214.7 L646.0,215.3 L647.0,215.7 L648.0,215.6 L649.0,215.4 L650.0,215.4 L651.0,215.5 L652.0,216.0 L653.0,216.8 L654.0,216.6 L655.0,215.2 L656.0,214.3 L657.0,214.3 L658.0,215.2 L659.0,216.9 L660.0,217.8 L661.0,217.0 L662.0,215.5 L663.0,214.5 L664.0,214.9 L665.0,216.2" fill="none" stroke="#e31a1c" stroke-width="1.9" stroke-linejoin="round"/>
</g>
<path d="M60.2,456.6 L60.2,470.4 M57.0,456.6 L63.5,456.6 M57.0,470.4 L63.5,470.4 M64.4,470.0 L64.4,483.9 M61.2,470.0 L67.7,470.0 M61.2,483.9 L67.7,483.9 M68.6,466.9 L68.6,479.0 M65.4,466.9 L71.9,466.9 M65.4,479.0 L71.9,479.0 M72.8,470.1 L72.8,480.8 M69.6,470.1 L76.1,470.1 M69.6,480.8 L76.1,480.8 M77.0,470.8 L77.0,480.1 M73.8,470.8 L80.3,470.8 M73.8,480.1 L80.3,480.1 M81.2,478.6 L81.2,489.9 M78.0,478.6 L84.5,478.6 M78.0,489.9 L84.5,489.9 M85.4,464.7 L85.4,476.2 M82.2,464.7 L88.7,464.7 M82.2,476.2 L88.7,476.2 M89.6,469.4 L89.6,478.7 M86.4,469.4 L92.9,469.4 M86.4,478.7 L92.9,478.7 M93.8,475.7 L93.8,485.0 M90.6,475.7 L97.1,475.7 M90.6,485.0 L97.1,485.0 M98.0,465.5 L98.0,480.5 M94.8,465.5 L101.3,465.5 M94.8,480.5 L101.3,480.5 M102.2,450.0 L102.2,462.9 M99.0,450.0 L105.5,450.0 M99.0,462.9 L105.5,462.9 M106.4,420.9 L106.4,438.1 M103.2,420.9 L109.7,420.9 M103.2,438.1 L109.7,438.1 M110.6,375.6 L110.6,400.1 M107.4,375.6 L113.9,375.6 M107.4,400.1 L113.9,400.1 M114.8,314.7 L114.8,354.8 M111.6,314.7 L118.1,314.7 M111.6,354.8 L118.1,354.8 M119.0,308.3 L119.0,348.2 M115.8,308.3 L122.3,308.3 M115.8,348.2 L122.3,348.2 M123.2,325.8 L123.2,362.4 M120.0,325.8 L126.5,325.8 M120.0,362.4 L126.5,362.4 M127.4,350.3 L127.4,377.3 M124.2,350.3 L130.7,350.3 M124.2,377.3 L130.7,377.3 M131.6,370.1 L131.6,396.0 M128.4,370.1 L134.9,370.1 M128.4,396.0 L134.9,396.0 M135.8,392.7 L135.8,417.8 M132.6,392.7 L139.1,392.7 M132.6,417.8 L139.1,417.8 M140.0,409.6 L140.0,426.2 M136.8,409.6 L143.3,409.6 M136.8,426.2 L143.3,426.2 M144.2,416.7 L144.2,437.4 M141.0,416.7 L147.5,416.7 M141.0,437.4 L147.5,437.4 M148.4,429.5 L148.4,446.0 M145.2,429.5 L151.7,429.5 M145.2,446.0 L151.7,446.0 M152.6,428.9 L152.6,450.8 M149.4,428.9 L155.9,428.9 M149.4,450.8 L155.9,450.8 M156.8,434.8 L156.8,449.0 M153.6,434.8 L160.1,434.8 M153.6,449.0 L160.1,449.0 M161.0,437.0 L161.0,456.1 M157.8,437.0 L164.3,437.0 M157.8,456.1 L164.3,456.1 M165.2,446.7 L165.2,465.9 M162.0,446.7 L168.5,446.7 M162.0,465.9 L168.5,465.9 M169.4,455.2 L169.4,468.6 M166.2,455.2 L172.7,455.2 M166.2,468.6 L172.7,468.6 M173.6,450.2 L173.6,469.1 M170.4,450.2 L176.9,450.2 M170.4,469.1 L176.9,469.1 M177.8,460.2 L177.8,477.5 M174.6,460.2 L181.1,460.2 M174.6,477.5 L181.1,477.5 M182.0,466.6 L182.0,477.3 M178.8,466.6 L185.3,466.6 M178.8,477.3 L185.3,477.3 M186.2,459.2 L186.2,475.5 M183.0,459.2 L189.5,459.2 M183.0,475.5 L189.5,475.5 M190.4,463.9 L190.4,474.8 M187.2,463.9 L193.7,463.9 M187.2,474.8 L193.7,474.8 M194.6,466.2 L194.6,480.2 M191.4,466.2 L197.9,466.2 M191.4,480.2 L197.9,480.2 M198.8,478.0 L198.8,491.6 M195.6,478.0 L202.1,478.0 M195.6,491.6 L202.1,491.6 M203.0,481.4 L203.0,493.3 M199.8,481.4 L206.3,481.4 M199.8,493.3 L206.3,493.3 M207.2,475.4 L207.2,488.2 M204.0,475.4 L210.5,475.4 M204.0,488.2 L210.5,488.2 M211.4,473.7 L211.4,489.8 M208.2,473.7 L214.7,473.7 M208.2,489.8 L214.7,489.8 M215.6,475.8 L215.6,488.5 M212.4,475.8 L218.9,475.8 M212.4,488.5 L218.9,488.5 M219.8,469.1 L219.8,480.6 M216.6,469.1 L223.1,469.1 M216.6,480.6 L223.1,480.6 M224.0,466.2 L224.0,481.6 M220.8,466.2 L227.3,466.2 M220.8,481.6 L227.3,481.6 M228.2,476.2 L228.2,489.8 M225.0,476.2 L231.5,476.2 M225.0,489.8 L231.5,489.8 M232.4,473.9 L232.4,490.0 M229.2,473.9 L235.7,473.9 M229.2,490.0 L235.7,490.0 M236.6,469.5 L236.6,481.7 M233.4,469.5 L239.9,469.5 M233.4,481.7 L239.9,481.7 M240.8,474.9 L240.8,487.7 M237.6,474.9 L244.1,474.9 M237.6,487.7 L244.1,487.7 M245.0,469.4 L245.0,485.5 M241.8,469.4 L248.3,469.4 M241.8,485.5 L248.3,485.5 M249.2,471.3 L249.2,485.4 M246.0,471.3 L252.5,471.3 M246.0,485.4 L252.5,485.4 M253.4,471.7 L253.4,485.7 M250.2,471.7 L256.7,471.7 M250.2,485.7 L256.7,485.7 M257.6,473.8 L257.6,485.9 M254.4,473.8 L260.9,473.8 M254.4,485.9 L260.9,485.9 M261.8,471.7 L261.8,482.3 M258.6,471.7 L265.1,471.7 M258.6,482.3 L265.1,482.3 M266.0,465.0 L266.0,482.1 M262.8,465.0 L269.3,465.0 M262.8,482.1 L269.3,482.1 M270.2,471.3 L270.2,482.4 M267.0,471.3 L273.5,471.3 M267.0,482.4 L273.5,482.4 M274.4,459.7 L274.4,476.9 M271.2,459.7 L277.7,459.7 M271.2,476.9 L277.7,476.9 M278.6,464.2 L278.6,477.6 M275.4,464.2 L281.9,464.2 M275.4,477.6 L281.9,477.6 M282.8,471.7 L282.8,488.8 M279.6,471.7 L286.1,471.7 M279.6,488.8 L286.1,488.8 M287.0,474.7 L287.0,488.0 M283.8,474.7 L290.3,474.7 M283.8,488.0 L290.3,488.0 M291.2,463.5 L291.2,480.7 M288.0,463.5 L294.5,463.5 M288.0,480.7 L294.5,480.7 M295.4,459.9 L295.4,475.0 M292.2,459.9 L298.7,459.9 M292.2,475.0 L298.7,475.0 M299.6,472.8 L299.6,485.0 M296.4,472.8 L302.9,472.8 M296.4,485.0 L302.9,485.0 M303.8,468.2 L303.8,483.9 M300.6,468.2 L307.1,468.2 M300.6,483.9 L307.1,483.9 M308.0,464.9 L308.0,480.2 M304.8,464.9 L311.3,464.9 M304.8,480.2 L311.3,480.2 M312.2,468.1 L312.2,483.4 M309.0,468.1 L315.5,468.1 M309.0,483.4 L315.5,483.4 M316.4,472.9 L316.4,486.7 M313.2,472.9 L319.7,472.9 M313.2,486.7 L319.7,486.7 M320.6,470.3 L320.6,482.3 M317.4,470.3 L323.9,470.3 M317.4,482.3 L323.9,482.3" stroke="#444" stroke-width="1.0" fill="none"/>
<path d="M61.4,465.5 L61.4,476.2 M58.1,465.5 L64.7,465.5 M58.1,476.2 L64.7,476.2 M65.6,467.8 L65.6,475.8 M62.3,467.8 L68.8,467.8 M62.3,475.8 L68.8,475.8 M69.8,466.4 L69.8,477.4 M66.5,466.4 L73.0,466.4 M66.5,477.4 L73.0,477.4 M74.0,471.1 L74.0,481.8 M70.7,471.1 L77.2,471.1 M70.7,481.8 L77.2,481.8 M78.2,465.6 L78.2,475.0 M74.9,465.6 L81.4,465.6 M74.9,475.0 L81.4,475.0 M82.4,462.8 L82.4,474.3 M79.1,462.8 L85.6,462.8 M79.1,474.3 L85.6,474.3 M86.6,470.7 L86.6,479.1 M83.3,470.7 L89.8,470.7 M83.3,479.1 L89.8,479.1 M90.8,464.5 L90.8,473.9 M87.5,464.5 L94.0,464.5 M87.5,473.9 L94.0,473.9 M95.0,465.5 L95.0,477.0 M91.7,465.5 L98.2,465.5 M91.7,477.0 L98.2,477.0 M99.2,462.5 L99.2,471.9 M95.9,462.5 L102.4,462.5 M95.9,471.9 L102.4,471.9 M103.4,455.4 L103.4,466.5 M100.1,455.4 L106.6,455.4 M100.1,466.5 L106.6,466.5 M107.6,433.1 L107.6,453.8 M104.3,433.1 L110.8,433.1 M104.3,453.8 L110.8,453.8 M111.8,383.6 L111.8,414.0 M108.5,383.6 L115.0,383.6 M108.5,414.0 L115.0,414.0 M116.0,346.1 L116.0,382.3 M112.7,346.1 L119.2,346.1 M112.7,382.3 L119.2,382.3 M120.2,318.2 L120.2,354.2 M116.9,318.2 L123.4,318.2 M116.9,354.2 L123.4,354.2 M124.4,305.6 L124.4,344.6 M121.1,305.6 L127.6,305.6 M121.1,344.6 L127.6,344.6 M128.6,313.8 L128.6,341.5 M125.3,313.8 L131.8,313.8 M125.3,341.5 L131.8,341.5 M132.8,311.3 L132.8,348.0 M129.5,311.3 L136.0,311.3 M129.5,348.0 L136.0,348.0 M137.0,324.2 L137.0,361.3 M133.7,324.2 L140.2,324.2 M133.7,361.3 L140.2,361.3 M141.2,335.5 L141.2,364.7 M137.9,335.5 L144.4,335.5 M137.9,364.7 L144.4,364.7 M145.4,340.0 L145.4,370.9 M142.1,340.0 L148.6,340.0 M142.1,370.9 L148.6,370.9 M149.6,345.6 L149.6,374.9 M146.3,345.6 L152.8,345.6 M146.3,374.9 L152.8,374.9 M153.8,352.9 L153.8,387.7 M150.5,352.9 L157.0,352.9 M150.5,387.7 L157.0,387.7 M158.0,365.5 L158.0,390.4 M154.7,365.5 L161.2,365.5 M154.7,390.4 L161.2,390.4 M162.2,373.3 L162.2,398.5 M158.9,373.3 L165.4,373.3 M158.9,398.5 L165.4,398.5 M166.4,382.6 L166.4,401.9 M163.1,382.6 L169.6,382.6 M163.1,401.9 L169.6,401.9 M170.6,386.0 L170.6,410.0 M167.3,386.0 L173.8,386.0 M167.3,410.0 L173.8,410.0 M174.8,392.5 L174.8,418.2 M171.5,392.5 L178.0,392.5 M171.5,418.2 L178.0,418.2 M179.0,399.0 L179.0,427.3 M175.7,399.0 L182.2,399.0 M175.7,427.3 L182.2,427.3 M183.2,406.2 L183.2,433.4 M179.9,406.2 L186.4,406.2 M179.9,433.4 L186.4,433.4 M187.4,411.3 L187.4,431.6 M184.1,411.3 L190.6,411.3 M184.1,431.6 L190.6,431.6 M191.6,407.5 L191.6,435.1 M188.3,407.5 L194.8,407.5 M188.3,435.1 L194.8,435.1 M195.8,420.6 L195.8,438.5 M192.5,420.6 L199.0,420.6 M192.5,438.5 L199.0,438.5 M200.0,419.1 L200.0,443.5 M196.7,419.1 L203.2,419.1 M196.7,443.5 L203.2,443.5 M204.2,427.7 L204.2,444.6 M200.9,427.7 L207.4,427.7 M200.9,444.6 L207.4,444.6 M208.4,430.6 L208.4,449.6 M205.1,430.6 L211.6,430.6 M205.1,449.6 L211.6,449.6 M212.6,437.3 L212.6,452.5 M209.3,437.3 L215.8,437.3 M209.3,452.5 L215.8,452.5 M216.8,430.0 L216.8,453.3 M213.5,430.0 L220.0,430.0 M213.5,453.3 L220.0,453.3 M221.0,431.5 L221.0,454.4 M217.7,431.5 L224.2,431.5 M217.7,454.4 L224.2,454.4 M225.2,441.7 L225.2,457.2 M221.9,441.7 L228.4,441.7 M221.9,457.2 L228.4,457.2 M229.4,443.2 L229.4,461.9 M226.1,443.2 L232.6,443.2 M226.1,461.9 L232.6,461.9 M233.6,437.2 L233.6,454.1 M230.3,437.2 L236.8,437.2 M230.3,454.1 L236.8,454.1 M237.8,437.3 L237.8,456.4 M234.5,437.3 L241.0,437.3 M234.5,456.4 L241.0,456.4 M242.0,445.6 L242.0,464.3 M238.7,445.6 L245.2,445.6 M238.7,464.3 L245.2,464.3 M246.2,451.9 L246.2,466.1 M242.9,451.9 L249.4,451.9 M242.9,466.1 L249.4,466.1 M250.4,453.2 L250.4,473.5 M247.1,453.2 L253.6,453.2 M247.1,473.5 L253.6,473.5 M254.6,454.3 L254.6,469.7 M251.3,454.3 L257.8,454.3 M251.3,469.7 L257.8,469.7 M258.8,454.8 L258.8,471.6 M255.5,454.8 L262.0,454.8 M255.5,471.6 L262.0,471.6 M263.0,455.6 L263.0,469.0 M259.7,455.6 L266.2,455.6 M259.7,469.0 L266.2,469.0 M267.2,458.7 L267.2,471.4 M263.9,458.7 L270.4,458.7 M263.9,471.4 L270.4,471.4 M271.4,460.5 L271.4,474.6 M268.1,460.5 L274.6,460.5 M268.1,474.6 L274.6,474.6 M275.6,460.5 L275.6,475.7 M272.3,460.5 L278.8,460.5 M272.3,475.7 L278.8,475.7 M279.8,454.6 L279.8,475.2 M276.5,454.6 L283.0,454.6 M276.5,475.2 L283.0,475.2 M284.0,457.8 L284.0,477.7 M280.7,457.8 L287.2,457.8 M280.7,477.7 L287.2,477.7 M288.2,456.3 L288.2,473.1 M284.9,456.3 L291.4,456.3 M284.9,473.1 L291.4,473.1 M292.4,452.4 L292.4,469.5 M289.1,452.4 L295.6,452.4 M289.1,469.5 L295.6,469.5 M296.6,457.6 L296.6,475.8 M293.3,457.6 L299.8,457.6 M293.3,475.8 L299.8,475.8 M300.8,461.6 L300.8,480.7 M297.5,461.6 L304.0,461.6 M297.5,480.7 L304.0,480.7 M305.0,460.3 L305.0,475.6 M301.7,460.3 L308.2,460.3 M301.7,475.6 L308.2,475.6 M309.2,460.7 L309.2,479.4 M305.9,460.7 L312.4,460.7 M305.9,479.4 L312.4,479.4 M313.4,458.5 L313.4,474.4 M310.1,458.5 L316.6,458.5 M310.1,474.4 L316.6,474.4 M317.6,459.7 L317.6,477.0 M314.3,459.7 L320.8,459.7 M314.3,477.0 L320.8,477.0 M321.8,457.3 L321.8,476.0 M318.5,457.3 L325.0,457.3 M318.5,476.0 L325.0,476.0" stroke="#e23838" stroke-width="1.2" fill="none"/>
<path d="M59.9,465.0 L63.7,477.0 L69.1,472.6 L75.7,475.9 L80.5,484.0 L86.5,467.2 L92.0,483.5 L96.3,482.4 L99.6,469.3 L104.0,450.0 L109.9,399.6 L112.6,354.3 L114.5,336.2 L117.2,323.2 L119.9,330.8 L123.5,345.3 L128.7,370.0 L133.0,391.7 L137.4,413.5 L141.7,422.2 L146.0,430.0 L150.0,440.0 L158.8,441.5 L164.6,451.7 L167.5,466.3 L171.9,459.0 L176.3,461.9 L179.2,467.7 L183.6,475.0 L188.0,461.9 L192.3,473.6 L196.7,475.0 L199.6,489.6 L204.0,482.3 L208.4,478.0 L212.8,486.7 L217.2,479.4 L223.0,475.0 L227.4,483.8 L231.8,479.4 L237.6,475.0 L240.0,478.9 L243.9,476.3 L246.6,484.2 L250.5,475.0 L255.8,481.5 L261.0,476.3 L265.0,469.7 L268.9,480.2 L274.2,471.0 L278.1,471.0 L283.4,481.5 L288.6,482.9 L292.6,471.0 L296.5,471.0 L300.4,478.9 L305.7,473.7 L311.0,473.7 L316.2,478.9 L321.5,476.3 L324.1,473.7" fill="none" stroke="#000" stroke-width="2" stroke-linejoin="round"/>
<path d="M59.9,469.3 L65.9,473.7 L70.2,470.4 L75.7,477.0 L81.1,469.3 L86.5,474.8 L92.0,468.3 L96.3,472.6 L101.7,465.0 L106.1,450.9 L108.3,440.0 L111.7,399.6 L117.2,354.3 L120.8,332.6 L123.5,323.6 L126.2,328.1 L130.8,327.2 L135.3,336.2 L138.9,347.1 L144.3,354.3 L149.8,361.6 L154.8,370.0 L160.0,383.3 L166.5,393.0 L171.4,398.0 L176.3,407.7 L182.8,419.2 L189.4,417.5 L195.9,430.6 L202.4,433.8 L208.9,438.7 L212.2,445.3 L218.7,442.0 L225.3,448.5 L230.1,451.8 L235.0,442.0 L240.0,452.6 L245.3,457.9 L250.5,463.1 L254.5,460.5 L258.4,463.1 L262.3,460.5 L266.3,464.5 L271.5,467.1 L279.4,467.1 L284.7,468.4 L292.6,461.8 L296.5,467.1 L303.1,469.7 L309.6,468.4 L316.2,469.7 L322.8,465.8" fill="none" stroke="#e31a1c" stroke-width="2" stroke-linejoin="round"/>
<path d="M134.1,398.0 L135.1,401.5 L136.1,404.8 L137.1,408.1 L138.1,411.1 L139.1,414.0 L140.1,416.8 L141.1,419.5 L142.1,422.0 L143.1,424.4 L144.1,426.7 L145.1,428.9 L146.1,431.0 L147.1,433.0 L148.1,434.9 L149.1,436.7 L150.1,438.4 L151.1,440.1 L152.1,441.6 L153.1,443.1 L154.1,444.6 L155.1,445.9 L156.1,447.2 L157.1,448.5 L158.1,449.6 L159.1,450.8 L160.1,451.8 L161.1,452.9 L162.1,453.8 L163.1,454.8 L164.1,455.7 L165.1,456.5 L166.1,457.3 L167.1,458.1 L168.1,458.8 L169.1,459.5 L170.1,460.2 L171.1,460.8 L172.1,461.4 L173.1,462.0 L174.1,462.5 L175.1,463.1 L176.1,463.6 L177.1,464.1 L178.1,464.5 L179.1,464.9 L180.1,465.4 L181.1,465.8 L182.1,466.1 L183.1,466.5 L184.1,466.8 L185.1,467.2 L186.1,467.5 L187.1,467.8 L188.1,468.0 L189.1,468.3 L190.1,468.6 L191.1,468.8 L192.1,469.1 L193.1,469.3 L194.1,469.5 L195.1,469.7 L196.1,469.9 L197.1,470.1 L198.1,470.2 L199.1,470.4 L200.1,470.6 L201.1,470.7 L202.1,470.9 L203.1,471.0 L204.1,471.1 L205.1,471.3 L206.1,471.4 L207.1,471.5 L208.1,471.6 L209.1,471.7 L210.1,471.8 L211.1,471.9 L212.1,472.0 L213.1,472.1 L214.1,472.2 L215.1,472.2 L216.1,472.3 L217.1,472.4 L218.1,472.5 L219.1,472.5 L220.1,472.6 L221.1,472.6 L222.1,472.7 L223.1,472.8 L224.1,472.8 L225.1,472.9 L226.1,472.9 L227.1,472.9 L228.1,473.0 L229.1,473.0 L230.1,473.1 L231.1,473.1 L232.1,473.1 L233.1,473.2 L234.1,473.2 L235.1,473.2 L236.1,473.3 L237.1,473.3 L238.1,473.3 L239.1,473.3 L240.1,473.4 L241.1,473.4 L242.1,473.4 L243.1,473.4 L244.1,473.4 L245.1,473.5 L246.1,473.5 L247.1,473.5 L248.1,473.5 L249.1,473.5 L250.1,473.5 L251.1,473.6 L252.1,473.6 L253.1,473.6 L254.1,473.6 L255.1,473.6 L256.1,473.6 L257.1,473.6 L258.1,473.6 L259.1,473.7 L260.1,473.7 L261.1,473.7 L262.1,473.7 L263.1,473.7 L264.1,473.7 L265.1,473.7 L266.1,473.7 L267.1,473.7 L268.1,473.7 L269.1,473.7 L270.1,473.7 L271.1,473.7 L272.1,473.7 L273.1,473.7 L274.1,473.8 L275.1,473.8 L276.1,473.8 L277.1,473.8 L278.1,473.8 L279.1,473.8 L280.1,473.8 L281.1,473.8 L282.1,473.8 L283.1,473.8 L284.1,473.8 L285.1,473.8 L286.1,473.8 L287.1,473.8 L288.1,473.8 L289.1,473.8 L290.1,473.8 L291.1,473.8 L292.1,473.8 L293.1,473.8 L294.1,473.8 L295.1,473.8 L296.1,473.8 L297.1,473.8 L298.1,473.8 L299.1,473.8 L300.1,473.8 L301.1,473.8 L302.1,473.8 L303.1,473.8 L304.1,473.8 L305.1,473.8 L306.1,473.8 L307.1,473.8 L308.1,473.8 L309.1,473.8 L310.1,473.8 L311.1,473.8 L312.1,473.8 L313.1,473.8 L314.1,473.8 L315.1,473.8 L316.1,473.8 L317.1,473.8 L318.1,473.8 L319.1,473.8 L320.1,473.8 L321.1,473.8 L322.1,473.8" fill="none" stroke="#1414e6" stroke-width="3.4"/>
<path d="M170.0,396.2 L171.0,397.5 L172.0,398.9 L173.0,400.2 L174.0,401.5 L175.0,402.7 L176.0,404.0 L177.0,405.2 L178.0,406.4 L179.0,407.6 L180.0,408.7 L181.0,409.9 L182.0,411.0 L183.0,412.1 L184.0,413.1 L185.0,414.2 L186.0,415.2 L187.0,416.3 L188.0,417.3 L189.0,418.2 L190.0,419.2 L191.0,420.1 L192.0,421.1 L193.0,422.0 L194.0,422.9 L195.0,423.8 L196.0,424.6 L197.0,425.5 L198.0,426.3 L199.0,427.1 L200.0,427.9 L201.0,428.7 L202.0,429.5 L203.0,430.3 L204.0,431.0 L205.0,431.7 L206.0,432.5 L207.0,433.2 L208.0,433.9 L209.0,434.5 L210.0,435.2 L211.0,435.9 L212.0,436.5 L213.0,437.1 L214.0,437.8 L215.0,438.4 L216.0,439.0 L217.0,439.6 L218.0,440.1 L219.0,440.7 L220.0,441.3 L221.0,441.8 L222.0,442.4 L223.0,442.9 L224.0,443.4 L225.0,443.9 L226.0,444.4 L227.0,444.9 L228.0,445.4 L229.0,445.9 L230.0,446.3 L231.0,446.8 L232.0,447.2 L233.0,447.7 L234.0,448.1 L235.0,448.5 L236.0,448.9 L237.0,449.4 L238.0,449.8 L239.0,450.1 L240.0,450.5 L241.0,450.9 L242.0,451.3 L243.0,451.7 L244.0,452.0 L245.0,452.4 L246.0,452.7 L247.0,453.1 L248.0,453.4 L249.0,453.7 L250.0,454.0 L251.0,454.4 L252.0,454.7 L253.0,455.0 L254.0,455.3 L255.0,455.6 L256.0,455.9 L257.0,456.1 L258.0,456.4 L259.0,456.7 L260.0,457.0 L261.0,457.2 L262.0,457.5 L263.0,457.8 L264.0,458.0 L265.0,458.2 L266.0,458.5 L267.0,458.7 L268.0,459.0 L269.0,459.2 L270.0,459.4 L271.0,459.6 L272.0,459.8 L273.0,460.1 L274.0,460.3 L275.0,460.5 L276.0,460.7 L277.0,460.9 L278.0,461.1 L279.0,461.3 L280.0,461.4 L281.0,461.6 L282.0,461.8 L283.0,462.0 L284.0,462.2 L285.0,462.3 L286.0,462.5 L287.0,462.7 L288.0,462.8 L289.0,463.0 L290.0,463.1 L291.0,463.3 L292.0,463.4 L293.0,463.6 L294.0,463.7 L295.0,463.9 L296.0,464.0 L297.0,464.1 L298.0,464.3 L299.0,464.4 L300.0,464.5 L301.0,464.7 L302.0,464.8 L303.0,464.9 L304.0,465.0 L305.0,465.2 L306.0,465.3 L307.0,465.4 L308.0,465.5 L309.0,465.6 L310.0,465.7 L311.0,465.8 L312.0,465.9 L313.0,466.0 L314.0,466.1 L315.0,466.2 L316.0,466.3 L317.0,466.4 L318.0,466.5 L319.0,466.6 L320.0,466.7 L321.0,466.8 L322.0,466.9" fill="none" stroke="#1414e6" stroke-width="3.4"/>
<path d="M413.6,502.4 L414.8,502.4 L415.9,502.4 L417.1,502.3 L418.2,502.3 L419.4,502.2 L420.5,502.2 L421.7,502.1 L422.8,502.1 L424.0,502.0 L425.2,501.9 L426.3,501.9 L427.5,501.8 L428.6,501.7 L429.8,501.7 L430.9,501.6 L432.1,501.5 L433.3,501.4 L434.4,501.3 L435.6,501.3 L436.7,501.2 L437.9,501.1 L439.0,501.0 L440.2,500.8 L441.3,500.7 L442.5,500.6 L443.7,500.5 L444.8,500.4 L446.0,500.2 L447.1,500.1 L448.3,499.9 L449.4,499.8 L450.6,499.6 L451.7,499.4 L452.9,499.3 L454.1,499.1 L455.2,498.9 L456.4,498.7 L457.5,498.5 L458.7,498.2 L459.8,498.0 L461.0,497.8 L462.2,497.5 L463.3,497.2 L464.5,497.0 L465.6,496.7 L466.8,496.4 L467.9,496.1 L469.1,495.7 L470.2,495.4 L471.4,495.0 L472.6,494.7 L473.7,494.3 L474.9,493.9 L476.0,493.4 L477.2,493.0 L478.3,492.5 L479.5,492.1 L480.6,491.6 L481.8,491.0 L483.0,490.5 L484.1,489.9 L485.3,489.3 L486.4,488.7 L487.6,488.1 L488.7,487.4 L489.9,486.8 L491.1,486.0 L492.2,485.3 L493.4,484.5 L494.5,483.7 L495.7,482.9 L496.8,482.1 L498.0,481.2 L499.1,480.2 L500.3,479.3 L501.5,478.3 L502.6,477.3 L503.8,476.2 L504.9,475.1 L506.1,474.0 L507.2,472.8 L508.4,471.6 L509.5,470.4 L510.7,469.1 L511.9,467.7 L513.0,466.4 L514.2,465.0 L515.3,463.5 L516.5,462.0 L517.6,460.5 L518.8,458.9 L520.0,457.3 L521.1,455.7 L522.3,454.0 L523.4,452.2 L524.6,450.5 L525.7,448.7 L526.9,446.8 L528.0,444.9 L529.2,443.0 L530.4,441.1 L531.5,439.1 L532.7,437.0 L533.8,435.0 L535.0,432.9 L536.1,430.8 L537.3,428.6 L538.4,426.5 L539.6,424.3 L540.8,422.1 L541.9,419.8 L543.1,417.6 L544.2,415.3 L545.4,413.1 L546.5,410.8 L547.7,408.5 L548.9,406.2 L550.0,403.9 L551.2,401.6 L552.3,399.3 L553.5,397.0 L554.6,394.7 L555.8,392.4 L556.9,390.1 L558.1,387.9 L559.3,385.6 L560.4,383.4 L561.6,381.2 L562.7,379.0 L563.9,376.9 L565.0,374.8 L566.2,372.7 L567.3,370.6 L568.5,368.5 L569.7,366.5 L570.8,364.6 L572.0,362.6 L573.1,360.7 L574.3,358.9 L575.4,357.0 L576.6,355.2 L577.8,353.5 L578.9,351.8 L580.1,350.1 L581.2,348.5 L582.4,346.9 L583.5,345.3 L584.7,343.8 L585.8,342.4 L587.0,340.9 L588.2,339.5 L589.3,338.2 L590.5,336.9 L591.6,335.6 L592.8,334.4 L593.9,333.2 L595.1,332.0 L596.2,330.9 L597.4,329.9 L598.6,328.8 L599.7,327.8 L600.9,326.8 L602.0,325.9 L603.2,325.0 L604.3,324.1 L605.5,323.3 L606.7,322.5 L607.8,321.7 L609.0,320.9 L610.1,320.2 L611.3,319.5 L612.4,318.8 L613.6,318.2 L614.7,317.6 L615.9,317.0 L617.1,316.4 L618.2,315.8 L619.4,315.3 L620.5,314.8 L621.7,314.3 L622.8,313.8 L624.0,313.4 L625.1,313.0 L626.3,312.5 L627.5,312.1 L628.6,311.8 L629.8,311.4 L630.9,311.0 L632.1,310.7 L633.2,310.4 L634.4,310.1 L635.6,309.8 L636.7,309.5 L637.9,309.2 L639.0,309.0 L640.2,308.7 L641.3,308.5 L642.5,308.3 L643.6,308.0 L644.8,307.8 L646.0,307.6 L647.1,307.4 L648.3,307.3 L649.4,307.1 L650.6,306.9 L651.7,306.8 L652.9,306.6 L654.0,306.5 L655.2,306.3 L656.4,306.2 L657.5,306.1 L658.7,305.9 L659.8,305.8 L661.0,305.7 L662.1,305.6 L663.3,305.5 L664.5,305.4 L665.6,305.3 L666.8,305.2 L667.9,305.1 L669.1,305.0 L670.2,305.0 L671.4,304.9 L672.5,304.8 L673.7,304.8 L674.9,304.7 L676.0,304.6 L677.2,304.6 L678.3,304.5 L679.5,304.5 L680.6,304.4 L681.8,304.4 L682.9,304.3" fill="none" stroke="#000" stroke-width="1.8"/>
<path d="M413.6,502.6 L414.8,502.5 L415.9,502.5 L417.1,502.4 L418.2,502.4 L419.4,502.4 L420.5,502.3 L421.7,502.3 L422.8,502.2 L424.0,502.2 L425.2,502.1 L426.3,502.1 L427.5,502.0 L428.6,501.9 L429.8,501.9 L430.9,501.8 L432.1,501.7 L433.3,501.7 L434.4,501.6 L435.6,501.5 L436.7,501.4 L437.9,501.3 L439.0,501.3 L440.2,501.2 L441.3,501.1 L442.5,501.0 L443.7,500.8 L444.8,500.7 L446.0,500.6 L447.1,500.5 L448.3,500.4 L449.4,500.2 L450.6,500.1 L451.7,499.9 L452.9,499.8 L454.1,499.6 L455.2,499.4 L456.4,499.3 L457.5,499.1 L458.7,498.9 L459.8,498.7 L461.0,498.5 L462.2,498.2 L463.3,498.0 L464.5,497.8 L465.6,497.5 L466.8,497.2 L467.9,497.0 L469.1,496.7 L470.2,496.4 L471.4,496.1 L472.6,495.7 L473.7,495.4 L474.9,495.0 L476.0,494.7 L477.2,494.3 L478.3,493.9 L479.5,493.4 L480.6,493.0 L481.8,492.5 L483.0,492.1 L484.1,491.6 L485.3,491.0 L486.4,490.5 L487.6,489.9 L488.7,489.3 L489.9,488.7 L491.1,488.1 L492.2,487.4 L493.4,486.8 L494.5,486.0 L495.7,485.3 L496.8,484.5 L498.0,483.7 L499.1,482.9 L500.3,482.1 L501.5,481.2 L502.6,480.2 L503.8,479.3 L504.9,478.3 L506.1,477.3 L507.2,476.2 L508.4,475.1 L509.5,474.0 L510.7,472.8 L511.9,471.6 L513.0,470.4 L514.2,469.1 L515.3,467.7 L516.5,466.4 L517.6,465.0 L518.8,463.5 L520.0,462.0 L521.1,460.5 L522.3,458.9 L523.4,457.3 L524.6,455.7 L525.7,454.0 L526.9,452.2 L528.0,450.5 L529.2,448.7 L530.4,446.8 L531.5,444.9 L532.7,443.0 L533.8,441.1 L535.0,439.1 L536.1,437.0 L537.3,435.0 L538.4,432.9 L539.6,430.8 L540.8,428.6 L541.9,426.5 L543.1,424.3 L544.2,422.1 L545.4,419.8 L546.5,417.6 L547.7,415.3 L548.9,413.1 L550.0,410.8 L551.2,408.5 L552.3,406.2 L553.5,403.9 L554.6,401.6 L555.8,399.3 L556.9,397.0 L558.1,394.7 L559.3,392.4 L560.4,390.1 L561.6,387.9 L562.7,385.6 L563.9,383.4 L565.0,381.2 L566.2,379.0 L567.3,376.9 L568.5,374.8 L569.7,372.7 L570.8,370.6 L572.0,368.5 L573.1,366.5 L574.3,364.6 L575.4,362.6 L576.6,360.7 L577.8,358.9 L578.9,357.0 L580.1,355.2 L581.2,353.5 L582.4,351.8 L583.5,350.1 L584.7,348.5 L585.8,346.9 L587.0,345.3 L588.2,343.8 L589.3,342.4 L590.5,340.9 L591.6,339.5 L592.8,338.2 L593.9,336.9 L595.1,335.6 L596.2,334.4 L597.4,333.2 L598.6,332.0 L599.7,330.9 L600.9,329.9 L602.0,328.8 L603.2,327.8 L604.3,326.8 L605.5,325.9 L606.7,325.0 L607.8,324.1 L609.0,323.3 L610.1,322.5 L611.3,321.7 L612.4,320.9 L613.6,320.2 L614.7,319.5 L615.9,318.8 L617.1,318.2 L618.2,317.6 L619.4,317.0 L620.5,316.4 L621.7,315.8 L622.8,315.3 L624.0,314.8 L625.1,314.3 L626.3,313.8 L627.5,313.4 L628.6,313.0 L629.8,312.5 L630.9,312.1 L632.1,311.8 L633.2,311.4 L634.4,311.0 L635.6,310.7 L636.7,310.4 L637.9,310.1 L639.0,309.8 L640.2,309.5 L641.3,309.2 L642.5,309.0 L643.6,308.7 L644.8,308.5 L646.0,308.3 L647.1,308.0 L648.3,307.8 L649.4,307.6 L650.6,307.4 L651.7,307.3 L652.9,307.1 L654.0,306.9 L655.2,306.8 L656.4,306.6 L657.5,306.5 L658.7,306.3 L659.8,306.2 L661.0,306.1 L662.1,305.9 L663.3,305.8 L664.5,305.7 L665.6,305.6 L666.8,305.5 L667.9,305.4 L669.1,305.3 L670.2,305.2 L671.4,305.1 L672.5,305.0 L673.7,305.0 L674.9,304.9 L676.0,304.8 L677.2,304.8 L678.3,304.7 L679.5,304.6 L680.6,304.6 L681.8,304.5 L682.9,304.5" fill="none" stroke="#e31a1c" stroke-width="1.8"/>
<path d="M475.4,487.3 L475.4,490.3 M472.9,487.3 L477.9,487.3 M472.9,490.3 L477.9,490.3" stroke="#777" stroke-width="0.8"/>
<path d="M511.5,455.9 L511.5,459.9 M509.0,455.9 L514.0,455.9 M509.0,459.9 L514.0,459.9" stroke="#777" stroke-width="0.8"/>
<path d="M541,412.1 L541,426.1 M538.5,412.1 L543.5,412.1 M538.5,426.1 L543.5,426.1" stroke="#777" stroke-width="0.8"/>
<path d="M566,379.4 L566,389.4 M563.5,379.4 L568.5,379.4 M563.5,389.4 L568.5,389.4" stroke="#777" stroke-width="0.8"/>
<path d="M596.2,337 L596.2,357 M593.7,337 L598.7,337 M593.7,357 L598.7,357" stroke="#777" stroke-width="0.8"/>
<path d="M653.5,302.2 L653.5,304.2 M651.0,302.2 L656.0,302.2 M651.0,304.2 L656.0,304.2" stroke="#777" stroke-width="0.8"/>
<path d="M680.9,302.2 L680.9,304.2 M678.4,302.2 L683.4,302.2 M678.4,304.2 L683.4,304.2" stroke="#777" stroke-width="0.8"/>
<path d="M475.5,487.5 L475.5,490.5 M473.0,487.5 L478.0,487.5 M473.0,490.5 L478.0,490.5" stroke="#d08080" stroke-width="0.8"/>
<path d="M511.5,459.2 L511.5,465.2 M509.0,459.2 L514.0,459.2 M509.0,465.2 L514.0,465.2" stroke="#d08080" stroke-width="0.8"/>
<path d="M541,415.7 L541,427.7 M538.5,415.7 L543.5,415.7 M538.5,427.7 L543.5,427.7" stroke="#d08080" stroke-width="0.8"/>
<path d="M566,380.2 L566,396.2 M563.5,380.2 L568.5,380.2 M563.5,396.2 L568.5,396.2" stroke="#d08080" stroke-width="0.8"/>
<path d="M596.2,338 L596.2,358 M593.7,338 L598.7,338 M593.7,358 L598.7,358" stroke="#d08080" stroke-width="0.8"/>
<path d="M653.5,302.2 L653.5,304.2 M651.0,302.2 L656.0,302.2 M651.0,304.2 L656.0,304.2" stroke="#d08080" stroke-width="0.8"/>
<path d="M680.9,302.2 L680.9,304.2 M678.4,302.2 L683.4,302.2 M678.4,304.2 L683.4,304.2" stroke="#d08080" stroke-width="0.8"/>
<rect x="472.09999999999997" y="485.5" width="6.6" height="6.6" fill="#000"/>
<rect x="508.2" y="454.59999999999997" width="6.6" height="6.6" fill="#000"/>
<rect x="537.7" y="415.8" width="6.6" height="6.6" fill="#000"/>
<rect x="562.7" y="381.09999999999997" width="6.6" height="6.6" fill="#000"/>
<rect x="592.9000000000001" y="343.7" width="6.6" height="6.6" fill="#000"/>
<rect x="650.2" y="299.9" width="6.6" height="6.6" fill="#000"/>
<rect x="677.6" y="299.9" width="6.6" height="6.6" fill="#000"/>
<circle cx="475.5" cy="489" r="3.5" fill="#e31a1c"/>
<circle cx="511.5" cy="462.2" r="3.5" fill="#e31a1c"/>
<circle cx="541" cy="421.7" r="3.5" fill="#e31a1c"/>
<circle cx="566" cy="388.2" r="3.5" fill="#e31a1c"/>
<circle cx="596.2" cy="348" r="3.5" fill="#e31a1c"/>
<circle cx="653.5" cy="303.2" r="3.5" fill="#e31a1c"/>
<circle cx="680.9" cy="303.2" r="3.5" fill="#e31a1c"/>
</svg></body></html>
